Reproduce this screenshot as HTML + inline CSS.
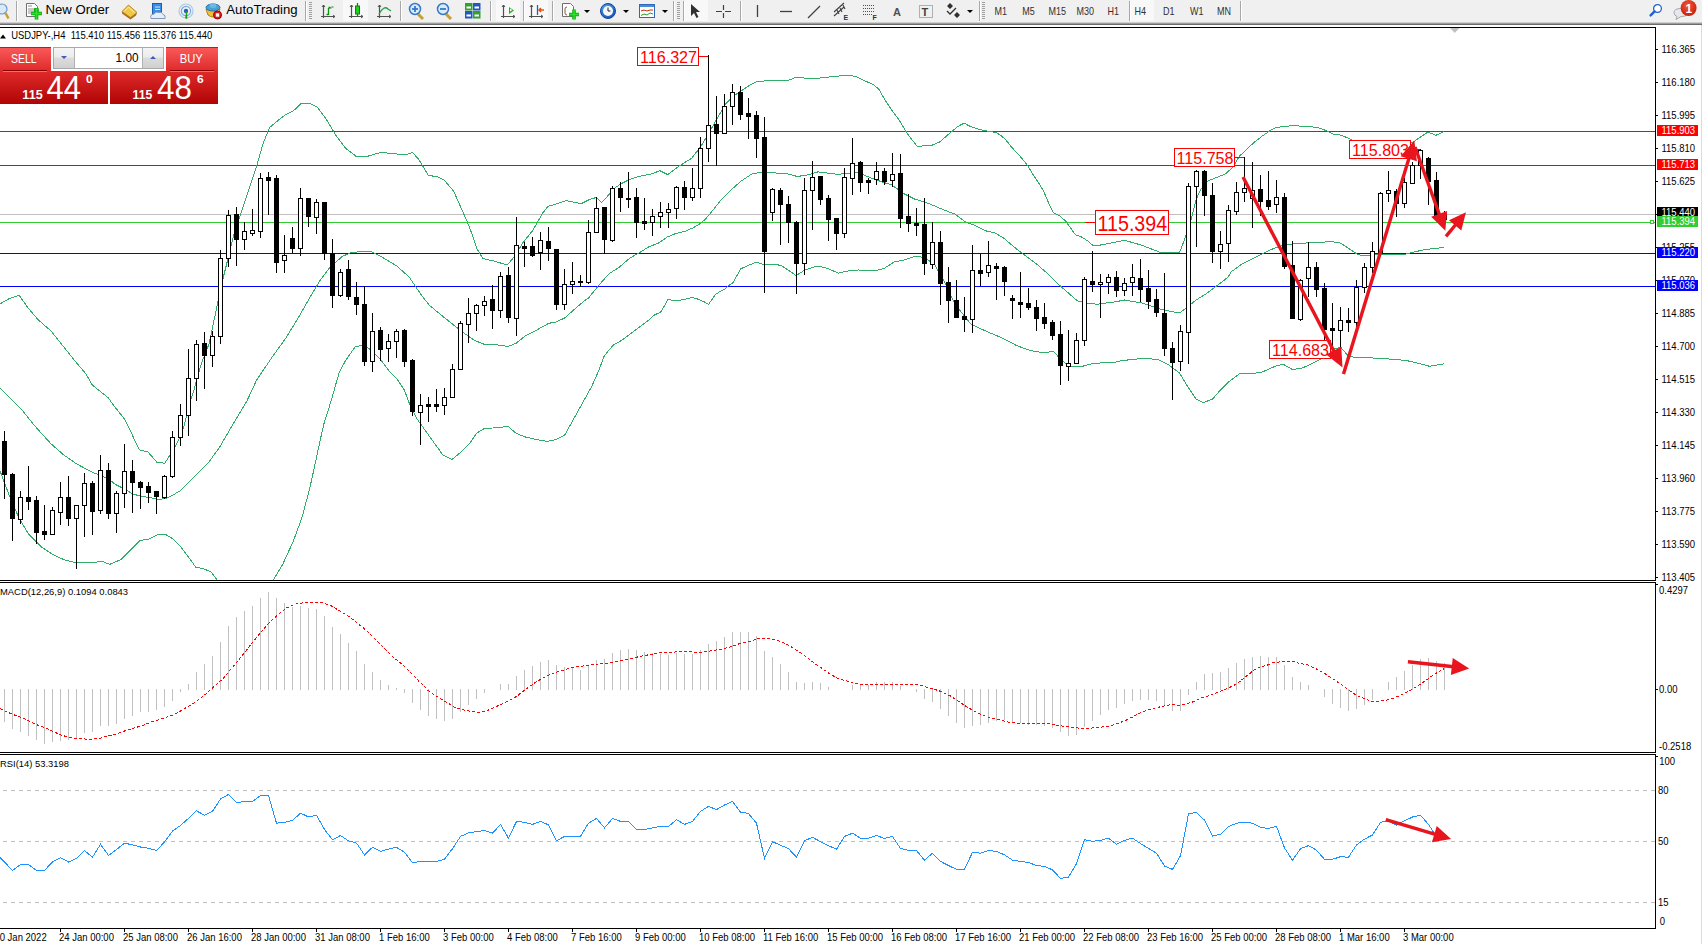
<!DOCTYPE html><html><head><meta charset="utf-8"><title>MT4 USDJPY H4</title><style>html,body{margin:0;padding:0;background:#fff;overflow:hidden;}svg{display:block;font-family:"Liberation Sans", sans-serif;}</style></head><body>
<svg width="1702" height="944" viewBox="0 0 1702 944">
<defs><linearGradient id="gSellTop" x1="0" y1="0" x2="0" y2="1"><stop offset="0" stop-color="#fb5a5a"/><stop offset="1" stop-color="#de2a2a"/></linearGradient><linearGradient id="gSellBot" x1="0" y1="0" x2="0" y2="1"><stop offset="0" stop-color="#e02a2a"/><stop offset="1" stop-color="#b00404"/></linearGradient><linearGradient id="gBtn" x1="0" y1="0" x2="0" y2="1"><stop offset="0" stop-color="#f4f4f4"/><stop offset="0.45" stop-color="#ececec"/><stop offset="0.5" stop-color="#dcdcdc"/><stop offset="1" stop-color="#d0d0d0"/></linearGradient><radialGradient id="gBadge" cx="0.45" cy="0.35" r="0.7"><stop offset="0" stop-color="#f05a3a"/><stop offset="1" stop-color="#c81808"/></radialGradient><radialGradient id="gClock" cx="0.4" cy="0.35" r="0.7"><stop offset="0" stop-color="#5ab0f0"/><stop offset="1" stop-color="#1450b0"/></radialGradient></defs>
<rect x="0" y="0" width="1702" height="944" fill="#ffffff"/>
<rect x="0" y="0" width="1702" height="22" fill="#f0f0f0"/>
<rect x="0" y="22" width="1702" height="1" fill="#cfcfcf"/>
<rect x="0" y="23" width="1702" height="1" fill="#9c9c9c"/>
<rect x="0" y="24" width="1702" height="1" fill="#6c6c6c"/>
<circle cx="2" cy="9" r="5" fill="#dbe9f6" stroke="#6c9ccc" stroke-width="1.2"/>
<path d="M5.5,13 L8.5,18.5" stroke="#c8a030" stroke-width="2.5"/>
<rect x="16" y="1" width="1" height="20" fill="#a8a8a8"/>
<rect x="17" y="1" width="1" height="20" fill="#ffffff"/>
<path d="M26.5,3.5 h8 l3,3 v10 h-11 z" fill="#fff" stroke="#707070"/>
<path d="M28,6 h4 M28,9 h7 M28,11 h7 M28,13 h5" stroke="#909090"/>
<path d="M34,10 h3 v-1.5 h0 M31,13.5 h11 M36.5,8 v11.5" stroke="#10b010" stroke-width="3.6"/>
<path d="M31.5,13.5 h10 M36.5,8.5 v10.5" stroke="#30e030" stroke-width="1.6"/>
<text transform="translate(45.5,14) scale(1.08,1)" font-size="12.2" fill="#000" font-weight="normal" text-anchor="start">New Order</text>
<path d="M122,11.5 L128.5,5 L137,12.5 L136,15.5 L130.5,19.5 L122,13.5 Z" fill="#a86a18"/>
<path d="M122,11.5 L128.5,5 L137,12.5 L130.5,17.5 Z" fill="#f0c848" stroke="#b88420" stroke-width="0.8"/>
<path d="M124,11.5 L128.5,7 L134.5,12.5" fill="none" stroke="#fff0a0" stroke-width="1"/>
<rect x="152.5" y="3.5" width="9" height="11" fill="#3c8ee0" stroke="#1c5ca8"/>
<path d="M155,7 h5 M155,9.5 h5" stroke="#cfe6ff"/>
<path d="M151,18.5 q-1.5,-4 3,-4.5 q1.5,-3 5,-1.5 q3,-1 4,2 q3,0.5 2,4 z" fill="#e8eef8" stroke="#8098c0"/>
<circle cx="186" cy="11" r="7" fill="none" stroke="#a8c8e8" stroke-width="1.2"/>
<circle cx="186" cy="11" r="4.6" fill="none" stroke="#78a8e0" stroke-width="1.2"/>
<circle cx="186" cy="11" r="2.2" fill="#2858c8"/>
<path d="M186.5,11 v7 h-1" stroke="#20a020" stroke-width="1.5"/>
<path d="M206,9 q7,-4 14,0 l-2,6 q-5,4 -10,0 z" fill="#f0c030" stroke="#b08010"/>
<ellipse cx="213" cy="7.5" rx="7" ry="3.5" fill="#4ca0d8" stroke="#2870a8"/>
<ellipse cx="213" cy="5.5" rx="3.5" ry="2.5" fill="#68b8e8"/>
<circle cx="217.5" cy="15" r="4" fill="#e01818" stroke="#a00000"/>
<rect x="215.8" y="13.3" width="3.4" height="3.4" fill="#fff"/>
<text transform="translate(226.3,14) scale(1.08,1)" font-size="12.2" fill="#000" font-weight="normal" text-anchor="start">AutoTrading</text>
<rect x="305" y="1" width="1" height="20" fill="#a8a8a8"/>
<rect x="306" y="1" width="1" height="20" fill="#ffffff"/>
<rect x="309" y="2" width="3" height="1" fill="#a0a0a0"/>
<rect x="309" y="4" width="3" height="1" fill="#a0a0a0"/>
<rect x="309" y="6" width="3" height="1" fill="#a0a0a0"/>
<rect x="309" y="8" width="3" height="1" fill="#a0a0a0"/>
<rect x="309" y="10" width="3" height="1" fill="#a0a0a0"/>
<rect x="309" y="12" width="3" height="1" fill="#a0a0a0"/>
<rect x="309" y="14" width="3" height="1" fill="#a0a0a0"/>
<rect x="309" y="16" width="3" height="1" fill="#a0a0a0"/>
<rect x="309" y="18" width="3" height="1" fill="#a0a0a0"/>
<path d="M323.5,5 v13 M321,16.5 h14" stroke="#505050" stroke-width="1.2"/>
<path d="M322,7 l1.5,-2 l1.5,2 M333,15 l2,1.5 l-2,1.5" fill="none" stroke="#505050"/>
<path d="M328.5,8 v7 M330.5,7.5 h-2 M328.5,14.5 h-2" stroke="#109010" stroke-width="1.3" fill="none"/>
<path d="M331.5,7 h2 M329,8 h2.5" stroke="#109010" stroke-width="1.2"/>
<rect x="343" y="0" width="25" height="21" fill="#f8f8f8"/>
<path d="M351.5,5 v13 M349,16.5 h14" stroke="#505050" stroke-width="1.2"/>
<path d="M350,7 l1.5,-2 l1.5,2 M361,15 l2,1.5 l-2,1.5" fill="none" stroke="#505050"/>
<rect x="355.5" y="6" width="4" height="8" fill="#20d020" stroke="#108010"/>
<path d="M357.5,3 v3 M357.5,14 v2.5" stroke="#108010" stroke-width="1.2"/>
<path d="M379.5,5 v13 M377,16.5 h14" stroke="#505050" stroke-width="1.2"/>
<path d="M378,7 l1.5,-2 l1.5,2 M389,15 l2,1.5 l-2,1.5" fill="none" stroke="#505050"/>
<path d="M379,14 q5,-9 9,-5 l3,2" fill="none" stroke="#20a040" stroke-width="1.3"/>
<rect x="400" y="1" width="1" height="20" fill="#a8a8a8"/>
<rect x="401" y="1" width="1" height="20" fill="#ffffff"/>
<path d="M418,14 l5,5" stroke="#c8a030" stroke-width="3"/>
<circle cx="415" cy="9" r="5.5" fill="#d8ecfa" stroke="#3878c8" stroke-width="1.5"/>
<path d="M412,9 h6" stroke="#3878c8" stroke-width="1.8"/>
<path d="M415,6 v6" stroke="#3878c8" stroke-width="1.8"/>
<path d="M446,14 l5,5" stroke="#c8a030" stroke-width="3"/>
<circle cx="443" cy="9" r="5.5" fill="#d8ecfa" stroke="#3878c8" stroke-width="1.5"/>
<path d="M440,9 h6" stroke="#3878c8" stroke-width="1.8"/>
<rect x="465" y="3" width="7.5" height="7.5" fill="#30a030"/>
<rect x="466.5" y="6.5" width="4.5" height="2" fill="#ffffff"/>
<rect x="473" y="3" width="7.5" height="7.5" fill="#2058c0"/>
<rect x="474.5" y="6.5" width="4.5" height="2" fill="#ffffff"/>
<rect x="465" y="11" width="7.5" height="7.5" fill="#2058c0"/>
<rect x="466.5" y="14.5" width="4.5" height="2" fill="#ffffff"/>
<rect x="473" y="11" width="7.5" height="7.5" fill="#30a030"/>
<rect x="474.5" y="14.5" width="4.5" height="2" fill="#ffffff"/>
<rect x="490" y="1" width="1" height="20" fill="#a8a8a8"/>
<rect x="491" y="1" width="1" height="20" fill="#ffffff"/>
<rect x="496" y="0" width="24" height="21" fill="#f8f8f8"/>
<path d="M503.5,5 v13 M501,16.5 h14" stroke="#505050" stroke-width="1.2"/>
<path d="M502,7 l1.5,-2 l1.5,2 M513,15 l2,1.5 l-2,1.5" fill="none" stroke="#505050"/>
<path d="M509,7 l5,3.5 l-5,3.5 z" fill="#20b020"/>
<path d="M510,8.5 l2.5,1.5 l-2.5,1.5 z" fill="#f8f8f8"/>
<rect x="523" y="1" width="1" height="20" fill="#a8a8a8"/>
<rect x="524" y="1" width="1" height="20" fill="#ffffff"/>
<rect x="525" y="0" width="23" height="21" fill="#f8f8f8"/>
<path d="M531.5,5 v13 M529,16.5 h14" stroke="#505050" stroke-width="1.2"/>
<path d="M530,7 l1.5,-2 l1.5,2 M541,15 l2,1.5 l-2,1.5" fill="none" stroke="#505050"/>
<path d="M537.5,5 v10" stroke="#2060c0" stroke-width="1.3"/>
<path d="M544,10 h-5 M541,8 l-2,2 l2,2" fill="none" stroke="#e05010" stroke-width="1.5"/>
<rect x="552" y="1" width="1" height="20" fill="#a8a8a8"/>
<rect x="553" y="1" width="1" height="20" fill="#ffffff"/>
<path d="M562.5,3.5 h8 l3,3 v10 h-11 z" fill="#fff" stroke="#707070"/>
<path d="M567,7 q-2,0 -2,2 v4 q0,2 2,2" fill="none" stroke="#806040"/>
<path d="M569,14.5 h10 M574,9.5 v10" stroke="#10b010" stroke-width="3.6"/>
<path d="M569.5,14.5 h9 M574,10 v9" stroke="#30e030" stroke-width="1.4"/>
<path d="M584,10 h6 l-3,3 z" fill="#000"/>
<circle cx="608" cy="11" r="7.5" fill="url(#gClock)" stroke="#1448a0"/>
<circle cx="608" cy="11" r="5" fill="#f4f8fc"/>
<path d="M608,7.5 v3.5 h2.5" fill="none" stroke="#202020" stroke-width="1"/>
<path d="M623,10 h6 l-3,3 z" fill="#000"/>
<rect x="639.5" y="4.5" width="15" height="13" fill="#fff" stroke="#3068b8"/>
<rect x="640" y="5" width="14" height="2" fill="#4a88d8"/>
<path d="M641,11 l3,-1 l3,1 l3,-1 l3,0" fill="none" stroke="#c03010" stroke-width="1"/>
<path d="M641,15.5 l3,-1.5 l3,1 l3,-2 l3,1" fill="none" stroke="#20a020" stroke-width="1"/>
<path d="M662,10 h6 l-3,3 z" fill="#000"/>
<rect x="673" y="1" width="1" height="20" fill="#a8a8a8"/>
<rect x="674" y="1" width="1" height="20" fill="#ffffff"/>
<rect x="677" y="2" width="3" height="1" fill="#a0a0a0"/>
<rect x="677" y="4" width="3" height="1" fill="#a0a0a0"/>
<rect x="677" y="6" width="3" height="1" fill="#a0a0a0"/>
<rect x="677" y="8" width="3" height="1" fill="#a0a0a0"/>
<rect x="677" y="10" width="3" height="1" fill="#a0a0a0"/>
<rect x="677" y="12" width="3" height="1" fill="#a0a0a0"/>
<rect x="677" y="14" width="3" height="1" fill="#a0a0a0"/>
<rect x="677" y="16" width="3" height="1" fill="#a0a0a0"/>
<rect x="677" y="18" width="3" height="1" fill="#a0a0a0"/>
<rect x="683" y="1" width="1" height="20" fill="#a8a8a8"/>
<rect x="684" y="1" width="1" height="20" fill="#ffffff"/>
<rect x="685" y="0" width="23" height="21" fill="#f8f8f8"/>
<path d="M691,4 v12 l3,-3 l2.5,5 l2,-1 l-2.5,-5 h4 z" fill="#303030"/>
<path d="M723.5,5 v13 M716,11.5 h15" stroke="#404040" stroke-width="1.2"/>
<rect x="722" y="10" width="3" height="3" fill="#f0f0f0"/>
<rect x="740" y="1" width="1" height="20" fill="#a8a8a8"/>
<rect x="741" y="1" width="1" height="20" fill="#ffffff"/>
<path d="M757.5,5 v12" stroke="#404040" stroke-width="1.3"/>
<path d="M780,11.5 h12" stroke="#404040" stroke-width="1.3"/>
<path d="M808,18 l12,-12" stroke="#404040" stroke-width="1.3"/>
<path d="M834,12 l10,-9 M834,16 l10,-9 M837,10 l2,4 M840,8 l2,4 M843,5 l2,4" stroke="#404040" stroke-width="1.1" fill="none"/>
<text x="843.5" y="20" font-size="7" fill="#303030" font-weight="bold" text-anchor="start">E</text>
<path d="M863,5.5 h12 M863,8.5 h12 M863,11.5 h12 M863,14.5 h10" stroke="#505050" stroke-dasharray="1,1"/>
<text x="872.5" y="20" font-size="7" fill="#303030" font-weight="bold" text-anchor="start">F</text>
<text x="893" y="16" font-size="11" fill="#505050" font-weight="bold" text-anchor="start">A</text>
<rect x="919.5" y="5.5" width="13" height="12" fill="none" stroke="#707070" stroke-dasharray="1,1"/>
<text x="921.6" y="16" font-size="11" fill="#404040" font-weight="bold" text-anchor="start">T</text>
<path d="M950,3 l3,3 l-3,3 l-3,-3 z M957,12 l3,3 l-3,3 l-3,-3 z" fill="#303030"/>
<path d="M947,11 l3,3 l6,-6" fill="none" stroke="#303030" stroke-width="1.3"/>
<path d="M967,10 h6 l-3,3 z" fill="#000"/>
<rect x="979" y="1" width="1" height="20" fill="#a8a8a8"/>
<rect x="980" y="1" width="1" height="20" fill="#ffffff"/>
<rect x="982" y="2" width="3" height="1" fill="#a0a0a0"/>
<rect x="982" y="4" width="3" height="1" fill="#a0a0a0"/>
<rect x="982" y="6" width="3" height="1" fill="#a0a0a0"/>
<rect x="982" y="8" width="3" height="1" fill="#a0a0a0"/>
<rect x="982" y="10" width="3" height="1" fill="#a0a0a0"/>
<rect x="982" y="12" width="3" height="1" fill="#a0a0a0"/>
<rect x="982" y="14" width="3" height="1" fill="#a0a0a0"/>
<rect x="982" y="16" width="3" height="1" fill="#a0a0a0"/>
<rect x="982" y="18" width="3" height="1" fill="#a0a0a0"/>
<text transform="translate(994.6,15.2) scale(0.9,1)" font-size="10" fill="#303030" font-weight="normal" text-anchor="start">M1</text>
<text transform="translate(1022.3,15.2) scale(0.9,1)" font-size="10" fill="#303030" font-weight="normal" text-anchor="start">M5</text>
<text transform="translate(1048.4,15.2) scale(0.9,1)" font-size="10" fill="#303030" font-weight="normal" text-anchor="start">M15</text>
<text transform="translate(1076.4,15.2) scale(0.9,1)" font-size="10" fill="#303030" font-weight="normal" text-anchor="start">M30</text>
<text transform="translate(1107.4,15.2) scale(0.9,1)" font-size="10" fill="#303030" font-weight="normal" text-anchor="start">H1</text>
<rect x="1129" y="1" width="1" height="20" fill="#a8a8a8"/>
<rect x="1130" y="1" width="1" height="20" fill="#ffffff"/>
<rect x="1131" y="0" width="23" height="21" fill="#f8f8f8"/>
<text transform="translate(1134.4,15.2) scale(0.9,1)" font-size="10" fill="#303030" font-weight="normal" text-anchor="start">H4</text>
<text transform="translate(1162.9,15.2) scale(0.9,1)" font-size="10" fill="#303030" font-weight="normal" text-anchor="start">D1</text>
<text transform="translate(1189.9,15.2) scale(0.9,1)" font-size="10" fill="#303030" font-weight="normal" text-anchor="start">W1</text>
<text transform="translate(1216.9,15.2) scale(0.9,1)" font-size="10" fill="#303030" font-weight="normal" text-anchor="start">MN</text>
<rect x="1240" y="1" width="1" height="20" fill="#a8a8a8"/>
<rect x="1241" y="1" width="1" height="20" fill="#ffffff"/>
<circle cx="1657.5" cy="8.5" r="3.9" fill="#fff" stroke="#2060d0" stroke-width="1.3"/>
<path d="M1654.6,11.4 l-4,4" stroke="#2060d0" stroke-width="2.4" stroke-linecap="round"/>
<path d="M1676,19.5 l1,-3 q-3,-1 -3,-4 q0,-4 7,-4 q7,0 7,4 q0,4 -7,4 z" fill="#e6e8ee" stroke="#a8a8a8"/>
<circle cx="1688.6" cy="8" r="8" fill="url(#gBadge)"/>
<text x="1688.8" y="12.6" font-size="12" fill="#fff" font-weight="bold" text-anchor="middle">1</text>
<path d="M1450,28 H1459.5 L1454.75,33 Z" fill="#c0c0c0"/>
<rect x="1701" y="25" width="1" height="919" fill="#dcdcdc"/>
<rect x="0" y="131" width="1655" height="1" fill="#ff0000"/>
<rect x="0" y="165" width="1655" height="1" fill="#ff0000"/>
<rect x="0" y="214" width="1655" height="1" fill="#c0c0c0"/>
<rect x="0" y="222" width="1655" height="1" fill="#32cd32"/>
<rect x="0" y="253" width="1655" height="1" fill="#0000ff"/>
<rect x="0" y="286" width="1655" height="1" fill="#0000ff"/>
<rect x="1650.5" y="220.5" width="3" height="3" fill="#fff" stroke="#32cd32"/>
<g clip-path="url(#clipMain)">
<clipPath id="clipMain"><rect x="0" y="28" width="1655" height="552"/></clipPath>
<polyline points="0,303.8 9.5,298.4 19.1,295.3 28.6,308.6 38.1,319.7 50.8,330.8 63.6,346.7 76.3,362.6 85.8,373.7 92.2,384.9 108,397.6 116,408.4 124.5,419 130.8,431.8 139.3,449.8 147.8,451.9 157.3,462.7 164.8,463.1 170.6,454.1 176.9,443.5 183.3,428.7 189.6,403.3 193.9,390.6 196.4,380 202,362 209.1,343.7 221.8,283.3 234.5,232.5 247.2,194.4 256.7,165.8 263.1,143.5 269.4,127.7 278.9,119.7 285.3,114.9 293.2,111.1 301.2,103.2 309.1,103.2 317.1,107 326.6,119.7 336.1,135.6 345.7,148.3 356.8,156.9 367.9,156.2 380.6,152.4 393.3,153.7 406,154.7 412.4,152.4 418.7,159.4 428.2,175.3 437.8,176.9 444.1,180.1 453.7,191.2 460,205.5 466.4,219.8 472.7,235.7 476.7,248.5 483,258.6 494.5,261.2 507.2,265 514.8,256.1 522.4,243.4 532.6,230.7 542.8,212.9 548,206.3 555.6,204.2 565.8,200.7 573.4,202 581.1,203.7 588.7,199.9 596.3,197.4 601.4,202.5 606.5,197.4 614.1,188.5 621.7,183.4 629.4,179.6 637,177 644.6,175.3 652.2,173.7 659.9,170.7 667.6,174.6 677.8,167 691.8,158.1 700.7,146.6 708.3,133.9 718.5,116.1 726.1,103.4 733.7,95.8 741.4,90.7 749,85.6 756.6,81.8 769.3,80.5 780,81 787.3,80.8 796.2,77.3 807.6,78.3 817.8,78.3 833,76.5 848.3,75.3 855.9,76.5 863.5,80.3 873.7,84.7 878.8,89.2 883.9,98.1 891.6,110 899.3,120.2 906.9,132.9 917.1,146.4 932.3,145.1 939.9,141.8 950.1,132.9 957.7,126.5 964.1,123.2 970.4,126.5 978.1,129.1 985.7,130.8 995.9,132.4 1000.7,135.4 1005.4,139.4 1011.8,147.3 1021.3,157.7 1027.7,165.6 1032.4,173.6 1038.8,183.1 1043.6,191.1 1048.3,202.2 1053.1,212.5 1059.5,215.7 1065.8,221.3 1075.4,234.8 1081.7,237.1 1088.1,241.1 1092.8,245.4 1100,245.1 1108,243.6 1124.5,240.3 1141,245 1160.3,252.4 1179.6,252.4 1185.1,238.1 1190.6,221.6 1196.1,199.6 1200.5,189.9 1207.6,181.1 1216.4,177.6 1225.2,174 1232.3,167.9 1239.3,156.4 1246.4,149.4 1255.2,141.4 1262.2,136.1 1271.1,130 1276.3,127.3 1286.9,126.4 1294,125.2 1301,126.4 1311.6,126.8 1320.4,128.2 1327.5,131.4 1332.7,134 1341.6,135.3 1348.6,138.4 1353.9,141.4 1380,146 1400,147 1413,142.3 1419.1,137.9 1427.9,132.1 1435.9,135.3 1444,131.7" fill="none" stroke="#30ad68" stroke-width="1" shape-rendering="crispEdges"/>
<polyline points="0,388 9.5,397.6 22.2,410.3 35,426.2 50.8,443.6 63.6,454.8 76.3,463.7 92.2,472.2 108,478.6 116,484.8 124.5,489 133,494 141.4,496.4 149.9,497.5 158.4,499.6 166.4,498.2 173.2,494.9 181.2,490.1 191.8,479.5 202.4,468.9 209.3,461.4 219.3,447.8 223.5,440.4 234.1,422.4 246.8,401.2 256.7,379.9 272.6,356.4 285.3,338.9 298,318.3 310.7,296 320.2,280.1 329.8,267.4 342.5,256.3 352,252.2 371.1,251.5 380.6,256.3 396.5,265.8 409.2,277 418.7,291.2 425.1,300 429.6,305.4 440.4,314.4 449.4,321.6 458.4,328.8 465.6,334.2 474.7,340.5 483.7,344.1 498.1,345 508,346.5 516.1,343.2 525.1,336 534.1,331.5 548.5,323.4 555.7,322 564.7,318 573.7,309.9 585.4,300 588.7,297.8 598.9,285.1 609,273.7 619.2,267.3 629.4,258.4 640,252.3 648.5,247 659.1,242.8 667.5,236.9 675,233.8 685.5,231.1 693,227.9 699.3,224.2 704.6,220 710.9,212.7 721,200 731.2,189.8 741.4,180.9 751.5,174.1 761.7,172 780,173.3 787.3,173.9 797.4,176.5 807.6,174.9 817.8,171.9 827.9,173.1 838.1,174.4 848.3,173.1 858.4,172.4 868.6,177 878.8,180.8 892,185.1 904.3,193.9 914.5,199 924.7,202 934.9,206.1 945,210.4 955.2,214.2 965.4,221.9 975.5,225.7 985.7,230.8 995.9,233.3 1004,238.4 1016.3,248.8 1026.5,256.4 1036.7,264.1 1046.9,273 1057,283.1 1067.2,292 1077.4,300.9 1087.5,303.5 1097.7,304.2 1107.9,302.7 1116,301.7 1124.5,300 1141,302.8 1157.5,308.3 1168.6,311 1179.6,313 1187.8,306.9 1196.1,300 1207.1,293.1 1218.1,284.9 1228,277.2 1231,272 1242,263.9 1255.8,257 1266.8,251.5 1275,247.9 1286.1,244.6 1302.6,243.2 1316.3,242.4 1332,241.7 1340.6,243.1 1349.2,248.8 1357.8,254.6 1366.4,256 1377.8,254 1389.3,254 1406.4,254 1415,251.7 1426.5,249.4 1444,247.4" fill="none" stroke="#30ad68" stroke-width="1" shape-rendering="crispEdges"/>
<polyline points="0,470.7 9.5,496.1 19.1,518.3 28.6,534.2 41.3,546.9 50.8,553.3 63.6,559.6 76.3,562.8 92.2,562.8 101.7,561.2 109.6,564.4 120.8,559.6 130.3,550.1 139.8,540.6 149.3,539 158.9,534.2 166.4,535 172.7,538.8 181.2,547.3 187.5,555.8 196,567.4 202.4,568.5 210.8,571.6 217.2,580 230,600 250,610 265,595 273.3,580 282.8,564.2 293.4,541 301.9,517.7 308.2,494.4 311.6,480 316.7,456.6 320.5,438.8 324.3,422.3 328.1,410.8 331.9,398.1 335.8,384.2 339.6,371.4 345.9,360 355.2,346.8 363.1,345.3 371.1,350 380.6,359.5 390,372 397.2,379.3 404.4,390.1 409.8,404.5 417,418.9 426,431.5 435,444.1 443.1,455.3 452.1,459.4 462,451.3 469.2,444.1 476.5,433.3 483.7,428.8 498.1,427.5 508,426.4 516.1,433.3 525.1,436.9 534.1,439 546.7,441.4 555.7,439.6 564.7,435.1 573.7,418.9 582.7,402.7 591.7,386.5 598.9,370.2 604.3,355.8 613.3,345 620,341.4 624.3,338.5 634.4,330.9 644.6,323.2 649,320 653.8,315.3 660.7,312.1 668.1,299.4 673.9,300.5 679.2,300.3 685.5,299.2 691.9,297.5 697.2,298.9 703.5,301.5 708.6,304.4 715.2,294.7 720.5,291.2 724.7,289.4 727.9,286.2 733.2,282.5 740.6,268.9 748,265.5 755.4,262.6 758.6,262.9 763.9,264.5 776.6,264.5 782.2,266 796.2,275.6 805.1,269.8 817.8,266 827.9,268.5 838.1,273.1 848.3,271 858.4,270 873.7,271 883.9,268.5 894.2,262 904.3,260 915.8,256.2 924.7,257.5 934.9,265.1 945,282.9 952.6,299.4 960.3,310.9 970.4,323.6 980.6,328.7 990.8,333.2 1004,338.8 1016.3,345.4 1026.5,349.3 1036.7,351.8 1046.9,352.6 1053.2,351 1059.6,358.2 1069.7,367 1082.4,366.3 1092.6,363.7 1102.8,362.7 1116,362 1121.8,360.6 1141,358.6 1157.5,359.2 1168.6,364.7 1179.6,373 1187.8,386.7 1196.1,399.1 1203,402.7 1212.6,399.1 1220.9,389.5 1228.3,382.2 1239.3,374 1253,373.4 1260,372.6 1265.9,370.5 1271.8,367.6 1277.6,365.5 1283.5,364.4 1292.3,369.4 1301.1,368.5 1309.9,364.7 1318.8,360 1327.3,356.1 1334,348.5 1341,347.6 1348.1,355.9 1354,357.3 1366.4,357.6 1389.3,359 1406.4,360.5 1417.9,363.3 1429.3,366.2 1444,363.9" fill="none" stroke="#30ad68" stroke-width="1" shape-rendering="crispEdges"/>
</g>
<rect x="4" y="431" width="1" height="10" fill="#000"/>
<rect x="4" y="475" width="1" height="24" fill="#000"/>
<rect x="2" y="441" width="5" height="34" fill="#000"/>
<rect x="12" y="473" width="1" height="1" fill="#000"/>
<rect x="12" y="519" width="1" height="22" fill="#000"/>
<rect x="10" y="474" width="5" height="45" fill="#000"/>
<rect x="20" y="491" width="1" height="6" fill="#000"/>
<rect x="20" y="520" width="1" height="4" fill="#000"/>
<rect x="18" y="497" width="5" height="23" fill="#000"/>
<rect x="19" y="498" width="3" height="21" fill="#fff"/>
<rect x="28" y="466" width="1" height="31" fill="#000"/>
<rect x="28" y="502" width="1" height="8" fill="#000"/>
<rect x="26" y="497" width="5" height="5" fill="#000"/>
<rect x="36" y="496" width="1" height="4" fill="#000"/>
<rect x="36" y="533" width="1" height="11" fill="#000"/>
<rect x="34" y="500" width="5" height="33" fill="#000"/>
<rect x="44" y="505" width="1" height="26" fill="#000"/>
<rect x="44" y="535" width="1" height="5" fill="#000"/>
<rect x="42" y="531" width="5" height="4" fill="#000"/>
<rect x="52" y="507" width="1" height="3" fill="#000"/>
<rect x="50" y="510" width="5" height="25" fill="#000"/>
<rect x="51" y="511" width="3" height="23" fill="#fff"/>
<rect x="60" y="482" width="1" height="15" fill="#000"/>
<rect x="60" y="513" width="1" height="12" fill="#000"/>
<rect x="58" y="497" width="5" height="16" fill="#000"/>
<rect x="59" y="498" width="3" height="14" fill="#fff"/>
<rect x="68" y="476" width="1" height="21" fill="#000"/>
<rect x="68" y="519" width="1" height="7" fill="#000"/>
<rect x="66" y="497" width="5" height="22" fill="#000"/>
<rect x="76" y="519" width="1" height="50" fill="#000"/>
<rect x="74" y="505" width="5" height="14" fill="#000"/>
<rect x="75" y="506" width="3" height="12" fill="#fff"/>
<rect x="84" y="473" width="1" height="10" fill="#000"/>
<rect x="84" y="506" width="1" height="31" fill="#000"/>
<rect x="82" y="483" width="5" height="23" fill="#000"/>
<rect x="83" y="484" width="3" height="21" fill="#fff"/>
<rect x="92" y="481" width="1" height="2" fill="#000"/>
<rect x="92" y="512" width="1" height="23" fill="#000"/>
<rect x="90" y="483" width="5" height="29" fill="#000"/>
<rect x="100" y="455" width="1" height="15" fill="#000"/>
<rect x="100" y="511" width="1" height="3" fill="#000"/>
<rect x="98" y="470" width="5" height="41" fill="#000"/>
<rect x="99" y="471" width="3" height="39" fill="#fff"/>
<rect x="108" y="463" width="1" height="7" fill="#000"/>
<rect x="108" y="514" width="1" height="5" fill="#000"/>
<rect x="106" y="470" width="5" height="44" fill="#000"/>
<rect x="116" y="491" width="1" height="2" fill="#000"/>
<rect x="116" y="514" width="1" height="19" fill="#000"/>
<rect x="114" y="493" width="5" height="21" fill="#000"/>
<rect x="115" y="494" width="3" height="19" fill="#fff"/>
<rect x="124" y="444" width="1" height="27" fill="#000"/>
<rect x="124" y="494" width="1" height="14" fill="#000"/>
<rect x="122" y="471" width="5" height="23" fill="#000"/>
<rect x="123" y="472" width="3" height="21" fill="#fff"/>
<rect x="132" y="460" width="1" height="11" fill="#000"/>
<rect x="132" y="483" width="1" height="30" fill="#000"/>
<rect x="130" y="471" width="5" height="12" fill="#000"/>
<rect x="140" y="481" width="1" height="1" fill="#000"/>
<rect x="140" y="488" width="1" height="21" fill="#000"/>
<rect x="138" y="482" width="5" height="6" fill="#000"/>
<rect x="148" y="482" width="1" height="4" fill="#000"/>
<rect x="148" y="493" width="1" height="10" fill="#000"/>
<rect x="146" y="486" width="5" height="7" fill="#000"/>
<rect x="156" y="497" width="1" height="17" fill="#000"/>
<rect x="154" y="491" width="5" height="6" fill="#000"/>
<rect x="164" y="475" width="1" height="1" fill="#000"/>
<rect x="164" y="498" width="1" height="1" fill="#000"/>
<rect x="162" y="476" width="5" height="22" fill="#000"/>
<rect x="163" y="477" width="3" height="20" fill="#fff"/>
<rect x="172" y="431" width="1" height="6" fill="#000"/>
<rect x="172" y="477" width="1" height="1" fill="#000"/>
<rect x="170" y="437" width="5" height="40" fill="#000"/>
<rect x="171" y="438" width="3" height="38" fill="#fff"/>
<rect x="180" y="404" width="1" height="11" fill="#000"/>
<rect x="180" y="438" width="1" height="8" fill="#000"/>
<rect x="178" y="415" width="5" height="23" fill="#000"/>
<rect x="179" y="416" width="3" height="21" fill="#fff"/>
<rect x="188" y="349" width="1" height="29" fill="#000"/>
<rect x="188" y="416" width="1" height="20" fill="#000"/>
<rect x="186" y="378" width="5" height="38" fill="#000"/>
<rect x="187" y="379" width="3" height="36" fill="#fff"/>
<rect x="196" y="340" width="1" height="4" fill="#000"/>
<rect x="196" y="379" width="1" height="22" fill="#000"/>
<rect x="194" y="344" width="5" height="35" fill="#000"/>
<rect x="195" y="345" width="3" height="33" fill="#fff"/>
<rect x="204" y="332" width="1" height="11" fill="#000"/>
<rect x="204" y="356" width="1" height="33" fill="#000"/>
<rect x="202" y="343" width="5" height="13" fill="#000"/>
<rect x="212" y="331" width="1" height="5" fill="#000"/>
<rect x="212" y="356" width="1" height="11" fill="#000"/>
<rect x="210" y="336" width="5" height="20" fill="#000"/>
<rect x="211" y="337" width="3" height="18" fill="#fff"/>
<rect x="220" y="250" width="1" height="8" fill="#000"/>
<rect x="220" y="337" width="1" height="7" fill="#000"/>
<rect x="218" y="258" width="5" height="79" fill="#000"/>
<rect x="219" y="259" width="3" height="77" fill="#fff"/>
<rect x="228" y="210" width="1" height="5" fill="#000"/>
<rect x="228" y="259" width="1" height="8" fill="#000"/>
<rect x="226" y="215" width="5" height="44" fill="#000"/>
<rect x="227" y="216" width="3" height="42" fill="#fff"/>
<rect x="236" y="207" width="1" height="7" fill="#000"/>
<rect x="236" y="240" width="1" height="26" fill="#000"/>
<rect x="234" y="214" width="5" height="26" fill="#000"/>
<rect x="244" y="222" width="1" height="9" fill="#000"/>
<rect x="244" y="240" width="1" height="10" fill="#000"/>
<rect x="242" y="231" width="5" height="9" fill="#000"/>
<rect x="243" y="232" width="3" height="7" fill="#fff"/>
<rect x="252" y="209" width="1" height="21" fill="#000"/>
<rect x="252" y="234" width="1" height="2" fill="#000"/>
<rect x="250" y="230" width="5" height="4" fill="#000"/>
<rect x="251" y="231" width="3" height="2" fill="#fff"/>
<rect x="260" y="173" width="1" height="5" fill="#000"/>
<rect x="260" y="232" width="1" height="6" fill="#000"/>
<rect x="258" y="178" width="5" height="54" fill="#000"/>
<rect x="259" y="179" width="3" height="52" fill="#fff"/>
<rect x="268" y="172" width="1" height="5" fill="#000"/>
<rect x="268" y="181" width="1" height="34" fill="#000"/>
<rect x="266" y="177" width="5" height="4" fill="#000"/>
<rect x="276" y="175" width="1" height="3" fill="#000"/>
<rect x="276" y="263" width="1" height="10" fill="#000"/>
<rect x="274" y="178" width="5" height="85" fill="#000"/>
<rect x="284" y="235" width="1" height="20" fill="#000"/>
<rect x="284" y="261" width="1" height="12" fill="#000"/>
<rect x="282" y="255" width="5" height="6" fill="#000"/>
<rect x="283" y="256" width="3" height="4" fill="#fff"/>
<rect x="292" y="227" width="1" height="11" fill="#000"/>
<rect x="292" y="249" width="1" height="4" fill="#000"/>
<rect x="290" y="238" width="5" height="11" fill="#000"/>
<rect x="300" y="188" width="1" height="10" fill="#000"/>
<rect x="300" y="249" width="1" height="7" fill="#000"/>
<rect x="298" y="198" width="5" height="51" fill="#000"/>
<rect x="299" y="199" width="3" height="49" fill="#fff"/>
<rect x="308" y="217" width="1" height="10" fill="#000"/>
<rect x="306" y="198" width="5" height="19" fill="#000"/>
<rect x="316" y="199" width="1" height="3" fill="#000"/>
<rect x="316" y="218" width="1" height="16" fill="#000"/>
<rect x="314" y="202" width="5" height="16" fill="#000"/>
<rect x="315" y="203" width="3" height="14" fill="#fff"/>
<rect x="324" y="254" width="1" height="6" fill="#000"/>
<rect x="322" y="202" width="5" height="52" fill="#000"/>
<rect x="332" y="239" width="1" height="14" fill="#000"/>
<rect x="332" y="296" width="1" height="12" fill="#000"/>
<rect x="330" y="253" width="5" height="43" fill="#000"/>
<rect x="340" y="269" width="1" height="3" fill="#000"/>
<rect x="340" y="296" width="1" height="1" fill="#000"/>
<rect x="338" y="272" width="5" height="24" fill="#000"/>
<rect x="339" y="273" width="3" height="22" fill="#fff"/>
<rect x="348" y="260" width="1" height="9" fill="#000"/>
<rect x="348" y="297" width="1" height="3" fill="#000"/>
<rect x="346" y="269" width="5" height="28" fill="#000"/>
<rect x="356" y="282" width="1" height="15" fill="#000"/>
<rect x="356" y="305" width="1" height="10" fill="#000"/>
<rect x="354" y="297" width="5" height="8" fill="#000"/>
<rect x="364" y="286" width="1" height="18" fill="#000"/>
<rect x="364" y="362" width="1" height="4" fill="#000"/>
<rect x="362" y="304" width="5" height="58" fill="#000"/>
<rect x="372" y="313" width="1" height="18" fill="#000"/>
<rect x="372" y="362" width="1" height="10" fill="#000"/>
<rect x="370" y="331" width="5" height="31" fill="#000"/>
<rect x="371" y="332" width="3" height="29" fill="#fff"/>
<rect x="380" y="327" width="1" height="3" fill="#000"/>
<rect x="380" y="350" width="1" height="11" fill="#000"/>
<rect x="378" y="330" width="5" height="20" fill="#000"/>
<rect x="388" y="334" width="1" height="7" fill="#000"/>
<rect x="388" y="349" width="1" height="13" fill="#000"/>
<rect x="386" y="341" width="5" height="8" fill="#000"/>
<rect x="387" y="342" width="3" height="6" fill="#fff"/>
<rect x="396" y="329" width="1" height="2" fill="#000"/>
<rect x="396" y="342" width="1" height="16" fill="#000"/>
<rect x="394" y="331" width="5" height="11" fill="#000"/>
<rect x="395" y="332" width="3" height="9" fill="#fff"/>
<rect x="404" y="329" width="1" height="1" fill="#000"/>
<rect x="404" y="362" width="1" height="5" fill="#000"/>
<rect x="402" y="330" width="5" height="32" fill="#000"/>
<rect x="412" y="359" width="1" height="1" fill="#000"/>
<rect x="412" y="412" width="1" height="4" fill="#000"/>
<rect x="410" y="360" width="5" height="52" fill="#000"/>
<rect x="420" y="394" width="1" height="11" fill="#000"/>
<rect x="420" y="413" width="1" height="32" fill="#000"/>
<rect x="418" y="405" width="5" height="8" fill="#000"/>
<rect x="419" y="406" width="3" height="6" fill="#fff"/>
<rect x="428" y="397" width="1" height="7" fill="#000"/>
<rect x="428" y="407" width="1" height="15" fill="#000"/>
<rect x="426" y="404" width="5" height="3" fill="#000"/>
<rect x="436" y="389" width="1" height="15" fill="#000"/>
<rect x="436" y="407" width="1" height="5" fill="#000"/>
<rect x="434" y="404" width="5" height="3" fill="#000"/>
<rect x="444" y="388" width="1" height="9" fill="#000"/>
<rect x="444" y="406" width="1" height="9" fill="#000"/>
<rect x="442" y="397" width="5" height="9" fill="#000"/>
<rect x="443" y="398" width="3" height="7" fill="#fff"/>
<rect x="452" y="364" width="1" height="5" fill="#000"/>
<rect x="450" y="369" width="5" height="29" fill="#000"/>
<rect x="451" y="370" width="3" height="27" fill="#fff"/>
<rect x="460" y="321" width="1" height="2" fill="#000"/>
<rect x="458" y="323" width="5" height="47" fill="#000"/>
<rect x="459" y="324" width="3" height="45" fill="#fff"/>
<rect x="468" y="298" width="1" height="15" fill="#000"/>
<rect x="468" y="325" width="1" height="18" fill="#000"/>
<rect x="466" y="313" width="5" height="12" fill="#000"/>
<rect x="467" y="314" width="3" height="10" fill="#fff"/>
<rect x="476" y="304" width="1" height="1" fill="#000"/>
<rect x="476" y="314" width="1" height="17" fill="#000"/>
<rect x="474" y="305" width="5" height="9" fill="#000"/>
<rect x="475" y="306" width="3" height="7" fill="#fff"/>
<rect x="484" y="296" width="1" height="5" fill="#000"/>
<rect x="484" y="306" width="1" height="10" fill="#000"/>
<rect x="482" y="301" width="5" height="5" fill="#000"/>
<rect x="483" y="302" width="3" height="3" fill="#fff"/>
<rect x="492" y="285" width="1" height="14" fill="#000"/>
<rect x="492" y="311" width="1" height="18" fill="#000"/>
<rect x="490" y="299" width="5" height="12" fill="#000"/>
<rect x="500" y="272" width="1" height="4" fill="#000"/>
<rect x="500" y="311" width="1" height="7" fill="#000"/>
<rect x="498" y="276" width="5" height="35" fill="#000"/>
<rect x="499" y="277" width="3" height="33" fill="#fff"/>
<rect x="508" y="267" width="1" height="8" fill="#000"/>
<rect x="508" y="318" width="1" height="5" fill="#000"/>
<rect x="506" y="275" width="5" height="43" fill="#000"/>
<rect x="516" y="217" width="1" height="28" fill="#000"/>
<rect x="516" y="319" width="1" height="17" fill="#000"/>
<rect x="514" y="245" width="5" height="74" fill="#000"/>
<rect x="515" y="246" width="3" height="72" fill="#fff"/>
<rect x="524" y="242" width="1" height="4" fill="#000"/>
<rect x="524" y="249" width="1" height="18" fill="#000"/>
<rect x="522" y="246" width="5" height="3" fill="#000"/>
<rect x="532" y="237" width="1" height="9" fill="#000"/>
<rect x="532" y="256" width="1" height="1" fill="#000"/>
<rect x="530" y="246" width="5" height="10" fill="#000"/>
<rect x="540" y="232" width="1" height="8" fill="#000"/>
<rect x="540" y="253" width="1" height="17" fill="#000"/>
<rect x="538" y="240" width="5" height="13" fill="#000"/>
<rect x="539" y="241" width="3" height="11" fill="#fff"/>
<rect x="548" y="227" width="1" height="14" fill="#000"/>
<rect x="548" y="249" width="1" height="12" fill="#000"/>
<rect x="546" y="241" width="5" height="8" fill="#000"/>
<rect x="556" y="305" width="1" height="5" fill="#000"/>
<rect x="554" y="249" width="5" height="56" fill="#000"/>
<rect x="564" y="269" width="1" height="15" fill="#000"/>
<rect x="564" y="305" width="1" height="5" fill="#000"/>
<rect x="562" y="284" width="5" height="21" fill="#000"/>
<rect x="563" y="285" width="3" height="19" fill="#fff"/>
<rect x="572" y="262" width="1" height="19" fill="#000"/>
<rect x="572" y="285" width="1" height="9" fill="#000"/>
<rect x="570" y="281" width="5" height="4" fill="#000"/>
<rect x="571" y="282" width="3" height="2" fill="#fff"/>
<rect x="580" y="275" width="1" height="6" fill="#000"/>
<rect x="580" y="283" width="1" height="4" fill="#000"/>
<rect x="578" y="281" width="5" height="2" fill="#000"/>
<rect x="588" y="220" width="1" height="12" fill="#000"/>
<rect x="588" y="283" width="1" height="1" fill="#000"/>
<rect x="586" y="232" width="5" height="51" fill="#000"/>
<rect x="587" y="233" width="3" height="49" fill="#fff"/>
<rect x="596" y="197" width="1" height="11" fill="#000"/>
<rect x="594" y="208" width="5" height="25" fill="#000"/>
<rect x="595" y="209" width="3" height="23" fill="#fff"/>
<rect x="604" y="240" width="1" height="14" fill="#000"/>
<rect x="602" y="207" width="5" height="33" fill="#000"/>
<rect x="612" y="186" width="1" height="2" fill="#000"/>
<rect x="612" y="241" width="1" height="1" fill="#000"/>
<rect x="610" y="188" width="5" height="53" fill="#000"/>
<rect x="611" y="189" width="3" height="51" fill="#fff"/>
<rect x="620" y="182" width="1" height="6" fill="#000"/>
<rect x="620" y="198" width="1" height="14" fill="#000"/>
<rect x="618" y="188" width="5" height="10" fill="#000"/>
<rect x="628" y="172" width="1" height="26" fill="#000"/>
<rect x="628" y="200" width="1" height="8" fill="#000"/>
<rect x="626" y="198" width="5" height="2" fill="#000"/>
<rect x="636" y="188" width="1" height="9" fill="#000"/>
<rect x="636" y="223" width="1" height="15" fill="#000"/>
<rect x="634" y="197" width="5" height="26" fill="#000"/>
<rect x="644" y="198" width="1" height="23" fill="#000"/>
<rect x="644" y="224" width="1" height="6" fill="#000"/>
<rect x="642" y="221" width="5" height="3" fill="#000"/>
<rect x="652" y="209" width="1" height="7" fill="#000"/>
<rect x="652" y="223" width="1" height="13" fill="#000"/>
<rect x="650" y="216" width="5" height="7" fill="#000"/>
<rect x="651" y="217" width="3" height="5" fill="#fff"/>
<rect x="660" y="202" width="1" height="10" fill="#000"/>
<rect x="660" y="217" width="1" height="11" fill="#000"/>
<rect x="658" y="212" width="5" height="5" fill="#000"/>
<rect x="659" y="213" width="3" height="3" fill="#fff"/>
<rect x="668" y="203" width="1" height="6" fill="#000"/>
<rect x="668" y="213" width="1" height="15" fill="#000"/>
<rect x="666" y="209" width="5" height="4" fill="#000"/>
<rect x="667" y="210" width="3" height="2" fill="#fff"/>
<rect x="676" y="186" width="1" height="1" fill="#000"/>
<rect x="676" y="209" width="1" height="10" fill="#000"/>
<rect x="674" y="187" width="5" height="22" fill="#000"/>
<rect x="675" y="188" width="3" height="20" fill="#fff"/>
<rect x="684" y="181" width="1" height="6" fill="#000"/>
<rect x="684" y="198" width="1" height="12" fill="#000"/>
<rect x="682" y="187" width="5" height="11" fill="#000"/>
<rect x="692" y="168" width="1" height="20" fill="#000"/>
<rect x="692" y="198" width="1" height="3" fill="#000"/>
<rect x="690" y="188" width="5" height="10" fill="#000"/>
<rect x="691" y="189" width="3" height="8" fill="#fff"/>
<rect x="700" y="137" width="1" height="11" fill="#000"/>
<rect x="700" y="189" width="1" height="9" fill="#000"/>
<rect x="698" y="148" width="5" height="41" fill="#000"/>
<rect x="699" y="149" width="3" height="39" fill="#fff"/>
<rect x="708" y="55" width="1" height="70" fill="#000"/>
<rect x="708" y="149" width="1" height="13" fill="#000"/>
<rect x="706" y="125" width="5" height="24" fill="#000"/>
<rect x="707" y="126" width="3" height="22" fill="#fff"/>
<rect x="716" y="96" width="1" height="28" fill="#000"/>
<rect x="716" y="134" width="1" height="32" fill="#000"/>
<rect x="714" y="124" width="5" height="10" fill="#000"/>
<rect x="724" y="94" width="1" height="12" fill="#000"/>
<rect x="722" y="106" width="5" height="28" fill="#000"/>
<rect x="723" y="107" width="3" height="26" fill="#fff"/>
<rect x="732" y="84" width="1" height="8" fill="#000"/>
<rect x="732" y="107" width="1" height="18" fill="#000"/>
<rect x="730" y="92" width="5" height="15" fill="#000"/>
<rect x="731" y="93" width="3" height="13" fill="#fff"/>
<rect x="740" y="86" width="1" height="6" fill="#000"/>
<rect x="740" y="115" width="1" height="5" fill="#000"/>
<rect x="738" y="92" width="5" height="23" fill="#000"/>
<rect x="748" y="98" width="1" height="15" fill="#000"/>
<rect x="748" y="117" width="1" height="22" fill="#000"/>
<rect x="746" y="113" width="5" height="4" fill="#000"/>
<rect x="756" y="111" width="1" height="4" fill="#000"/>
<rect x="756" y="139" width="1" height="19" fill="#000"/>
<rect x="754" y="115" width="5" height="24" fill="#000"/>
<rect x="764" y="117" width="1" height="20" fill="#000"/>
<rect x="764" y="252" width="1" height="41" fill="#000"/>
<rect x="762" y="137" width="5" height="115" fill="#000"/>
<rect x="772" y="188" width="1" height="1" fill="#000"/>
<rect x="772" y="213" width="1" height="8" fill="#000"/>
<rect x="770" y="189" width="5" height="24" fill="#000"/>
<rect x="771" y="190" width="3" height="22" fill="#fff"/>
<rect x="780" y="188" width="1" height="2" fill="#000"/>
<rect x="780" y="205" width="1" height="40" fill="#000"/>
<rect x="778" y="190" width="5" height="15" fill="#000"/>
<rect x="788" y="196" width="1" height="8" fill="#000"/>
<rect x="788" y="223" width="1" height="20" fill="#000"/>
<rect x="786" y="204" width="5" height="19" fill="#000"/>
<rect x="796" y="221" width="1" height="1" fill="#000"/>
<rect x="796" y="264" width="1" height="30" fill="#000"/>
<rect x="794" y="222" width="5" height="42" fill="#000"/>
<rect x="804" y="178" width="1" height="12" fill="#000"/>
<rect x="804" y="264" width="1" height="11" fill="#000"/>
<rect x="802" y="190" width="5" height="74" fill="#000"/>
<rect x="803" y="191" width="3" height="72" fill="#fff"/>
<rect x="812" y="161" width="1" height="16" fill="#000"/>
<rect x="812" y="191" width="1" height="39" fill="#000"/>
<rect x="810" y="177" width="5" height="14" fill="#000"/>
<rect x="811" y="178" width="3" height="12" fill="#fff"/>
<rect x="820" y="200" width="1" height="5" fill="#000"/>
<rect x="818" y="176" width="5" height="24" fill="#000"/>
<rect x="828" y="195" width="1" height="3" fill="#000"/>
<rect x="828" y="220" width="1" height="21" fill="#000"/>
<rect x="826" y="198" width="5" height="22" fill="#000"/>
<rect x="836" y="234" width="1" height="16" fill="#000"/>
<rect x="834" y="218" width="5" height="16" fill="#000"/>
<rect x="844" y="168" width="1" height="9" fill="#000"/>
<rect x="844" y="234" width="1" height="4" fill="#000"/>
<rect x="842" y="177" width="5" height="57" fill="#000"/>
<rect x="843" y="178" width="3" height="55" fill="#fff"/>
<rect x="852" y="138" width="1" height="25" fill="#000"/>
<rect x="852" y="179" width="1" height="16" fill="#000"/>
<rect x="850" y="163" width="5" height="16" fill="#000"/>
<rect x="851" y="164" width="3" height="14" fill="#fff"/>
<rect x="860" y="161" width="1" height="1" fill="#000"/>
<rect x="860" y="183" width="1" height="9" fill="#000"/>
<rect x="858" y="162" width="5" height="21" fill="#000"/>
<rect x="868" y="178" width="1" height="2" fill="#000"/>
<rect x="868" y="183" width="1" height="11" fill="#000"/>
<rect x="866" y="180" width="5" height="3" fill="#000"/>
<rect x="876" y="162" width="1" height="9" fill="#000"/>
<rect x="876" y="180" width="1" height="5" fill="#000"/>
<rect x="874" y="171" width="5" height="9" fill="#000"/>
<rect x="875" y="172" width="3" height="7" fill="#fff"/>
<rect x="884" y="168" width="1" height="3" fill="#000"/>
<rect x="884" y="182" width="1" height="3" fill="#000"/>
<rect x="882" y="171" width="5" height="11" fill="#000"/>
<rect x="892" y="153" width="1" height="21" fill="#000"/>
<rect x="892" y="181" width="1" height="6" fill="#000"/>
<rect x="890" y="174" width="5" height="7" fill="#000"/>
<rect x="891" y="175" width="3" height="5" fill="#fff"/>
<rect x="900" y="154" width="1" height="19" fill="#000"/>
<rect x="900" y="219" width="1" height="9" fill="#000"/>
<rect x="898" y="173" width="5" height="46" fill="#000"/>
<rect x="908" y="194" width="1" height="22" fill="#000"/>
<rect x="908" y="224" width="1" height="8" fill="#000"/>
<rect x="906" y="216" width="5" height="8" fill="#000"/>
<rect x="916" y="208" width="1" height="15" fill="#000"/>
<rect x="916" y="226" width="1" height="10" fill="#000"/>
<rect x="914" y="223" width="5" height="3" fill="#000"/>
<rect x="924" y="198" width="1" height="26" fill="#000"/>
<rect x="924" y="264" width="1" height="11" fill="#000"/>
<rect x="922" y="224" width="5" height="40" fill="#000"/>
<rect x="932" y="222" width="1" height="20" fill="#000"/>
<rect x="932" y="265" width="1" height="4" fill="#000"/>
<rect x="930" y="242" width="5" height="23" fill="#000"/>
<rect x="931" y="243" width="3" height="21" fill="#fff"/>
<rect x="940" y="231" width="1" height="11" fill="#000"/>
<rect x="940" y="284" width="1" height="21" fill="#000"/>
<rect x="938" y="242" width="5" height="42" fill="#000"/>
<rect x="948" y="267" width="1" height="15" fill="#000"/>
<rect x="948" y="301" width="1" height="22" fill="#000"/>
<rect x="946" y="282" width="5" height="19" fill="#000"/>
<rect x="956" y="280" width="1" height="20" fill="#000"/>
<rect x="954" y="300" width="5" height="18" fill="#000"/>
<rect x="964" y="297" width="1" height="19" fill="#000"/>
<rect x="964" y="320" width="1" height="12" fill="#000"/>
<rect x="962" y="316" width="5" height="4" fill="#000"/>
<rect x="972" y="245" width="1" height="25" fill="#000"/>
<rect x="972" y="320" width="1" height="13" fill="#000"/>
<rect x="970" y="270" width="5" height="50" fill="#000"/>
<rect x="971" y="271" width="3" height="48" fill="#fff"/>
<rect x="980" y="254" width="1" height="16" fill="#000"/>
<rect x="980" y="274" width="1" height="12" fill="#000"/>
<rect x="978" y="270" width="5" height="4" fill="#000"/>
<rect x="988" y="241" width="1" height="24" fill="#000"/>
<rect x="988" y="273" width="1" height="4" fill="#000"/>
<rect x="986" y="265" width="5" height="8" fill="#000"/>
<rect x="987" y="266" width="3" height="6" fill="#fff"/>
<rect x="996" y="263" width="1" height="3" fill="#000"/>
<rect x="996" y="269" width="1" height="31" fill="#000"/>
<rect x="994" y="266" width="5" height="3" fill="#000"/>
<rect x="1004" y="266" width="1" height="1" fill="#000"/>
<rect x="1004" y="282" width="1" height="14" fill="#000"/>
<rect x="1002" y="267" width="5" height="15" fill="#000"/>
<rect x="1012" y="295" width="1" height="3" fill="#000"/>
<rect x="1012" y="301" width="1" height="18" fill="#000"/>
<rect x="1010" y="298" width="5" height="3" fill="#000"/>
<rect x="1020" y="272" width="1" height="30" fill="#000"/>
<rect x="1020" y="305" width="1" height="13" fill="#000"/>
<rect x="1018" y="302" width="5" height="3" fill="#000"/>
<rect x="1028" y="288" width="1" height="15" fill="#000"/>
<rect x="1028" y="308" width="1" height="2" fill="#000"/>
<rect x="1026" y="303" width="5" height="5" fill="#000"/>
<rect x="1036" y="300" width="1" height="7" fill="#000"/>
<rect x="1036" y="319" width="1" height="12" fill="#000"/>
<rect x="1034" y="307" width="5" height="12" fill="#000"/>
<rect x="1044" y="303" width="1" height="14" fill="#000"/>
<rect x="1044" y="324" width="1" height="5" fill="#000"/>
<rect x="1042" y="317" width="5" height="7" fill="#000"/>
<rect x="1052" y="320" width="1" height="2" fill="#000"/>
<rect x="1052" y="336" width="1" height="4" fill="#000"/>
<rect x="1050" y="322" width="5" height="14" fill="#000"/>
<rect x="1060" y="321" width="1" height="13" fill="#000"/>
<rect x="1060" y="366" width="1" height="19" fill="#000"/>
<rect x="1058" y="334" width="5" height="32" fill="#000"/>
<rect x="1068" y="330" width="1" height="33" fill="#000"/>
<rect x="1068" y="367" width="1" height="14" fill="#000"/>
<rect x="1066" y="363" width="5" height="4" fill="#000"/>
<rect x="1067" y="364" width="3" height="2" fill="#fff"/>
<rect x="1076" y="333" width="1" height="7" fill="#000"/>
<rect x="1074" y="340" width="5" height="24" fill="#000"/>
<rect x="1075" y="341" width="3" height="22" fill="#fff"/>
<rect x="1084" y="277" width="1" height="2" fill="#000"/>
<rect x="1084" y="341" width="1" height="5" fill="#000"/>
<rect x="1082" y="279" width="5" height="62" fill="#000"/>
<rect x="1083" y="280" width="3" height="60" fill="#fff"/>
<rect x="1092" y="251" width="1" height="30" fill="#000"/>
<rect x="1092" y="285" width="1" height="7" fill="#000"/>
<rect x="1090" y="281" width="5" height="4" fill="#000"/>
<rect x="1100" y="274" width="1" height="8" fill="#000"/>
<rect x="1100" y="285" width="1" height="33" fill="#000"/>
<rect x="1098" y="282" width="5" height="3" fill="#000"/>
<rect x="1099" y="283" width="3" height="1" fill="#fff"/>
<rect x="1108" y="274" width="1" height="3" fill="#000"/>
<rect x="1108" y="283" width="1" height="11" fill="#000"/>
<rect x="1106" y="277" width="5" height="6" fill="#000"/>
<rect x="1107" y="278" width="3" height="4" fill="#fff"/>
<rect x="1116" y="271" width="1" height="6" fill="#000"/>
<rect x="1116" y="291" width="1" height="6" fill="#000"/>
<rect x="1114" y="277" width="5" height="14" fill="#000"/>
<rect x="1124" y="278" width="1" height="5" fill="#000"/>
<rect x="1124" y="291" width="1" height="5" fill="#000"/>
<rect x="1122" y="283" width="5" height="8" fill="#000"/>
<rect x="1123" y="284" width="3" height="6" fill="#fff"/>
<rect x="1132" y="264" width="1" height="13" fill="#000"/>
<rect x="1132" y="283" width="1" height="13" fill="#000"/>
<rect x="1130" y="277" width="5" height="6" fill="#000"/>
<rect x="1131" y="278" width="3" height="4" fill="#fff"/>
<rect x="1140" y="259" width="1" height="19" fill="#000"/>
<rect x="1140" y="290" width="1" height="12" fill="#000"/>
<rect x="1138" y="278" width="5" height="12" fill="#000"/>
<rect x="1148" y="270" width="1" height="18" fill="#000"/>
<rect x="1148" y="302" width="1" height="7" fill="#000"/>
<rect x="1146" y="288" width="5" height="14" fill="#000"/>
<rect x="1156" y="289" width="1" height="10" fill="#000"/>
<rect x="1156" y="313" width="1" height="4" fill="#000"/>
<rect x="1154" y="299" width="5" height="14" fill="#000"/>
<rect x="1164" y="273" width="1" height="40" fill="#000"/>
<rect x="1164" y="349" width="1" height="7" fill="#000"/>
<rect x="1162" y="313" width="5" height="36" fill="#000"/>
<rect x="1172" y="342" width="1" height="6" fill="#000"/>
<rect x="1172" y="363" width="1" height="37" fill="#000"/>
<rect x="1170" y="348" width="5" height="15" fill="#000"/>
<rect x="1180" y="325" width="1" height="6" fill="#000"/>
<rect x="1180" y="362" width="1" height="9" fill="#000"/>
<rect x="1178" y="331" width="5" height="31" fill="#000"/>
<rect x="1179" y="332" width="3" height="29" fill="#fff"/>
<rect x="1188" y="183" width="1" height="3" fill="#000"/>
<rect x="1188" y="333" width="1" height="31" fill="#000"/>
<rect x="1186" y="186" width="5" height="147" fill="#000"/>
<rect x="1187" y="187" width="3" height="145" fill="#fff"/>
<rect x="1196" y="170" width="1" height="1" fill="#000"/>
<rect x="1196" y="187" width="1" height="60" fill="#000"/>
<rect x="1194" y="171" width="5" height="16" fill="#000"/>
<rect x="1195" y="172" width="3" height="14" fill="#fff"/>
<rect x="1204" y="170" width="1" height="1" fill="#000"/>
<rect x="1204" y="196" width="1" height="20" fill="#000"/>
<rect x="1202" y="171" width="5" height="25" fill="#000"/>
<rect x="1212" y="183" width="1" height="12" fill="#000"/>
<rect x="1212" y="252" width="1" height="11" fill="#000"/>
<rect x="1210" y="195" width="5" height="57" fill="#000"/>
<rect x="1220" y="231" width="1" height="13" fill="#000"/>
<rect x="1220" y="252" width="1" height="17" fill="#000"/>
<rect x="1218" y="244" width="5" height="8" fill="#000"/>
<rect x="1219" y="245" width="3" height="6" fill="#fff"/>
<rect x="1228" y="205" width="1" height="5" fill="#000"/>
<rect x="1228" y="244" width="1" height="18" fill="#000"/>
<rect x="1226" y="210" width="5" height="34" fill="#000"/>
<rect x="1227" y="211" width="3" height="32" fill="#fff"/>
<rect x="1236" y="182" width="1" height="10" fill="#000"/>
<rect x="1236" y="212" width="1" height="3" fill="#000"/>
<rect x="1234" y="192" width="5" height="20" fill="#000"/>
<rect x="1235" y="193" width="3" height="18" fill="#fff"/>
<rect x="1244" y="157" width="1" height="31" fill="#000"/>
<rect x="1244" y="193" width="1" height="9" fill="#000"/>
<rect x="1242" y="188" width="5" height="5" fill="#000"/>
<rect x="1243" y="189" width="3" height="3" fill="#fff"/>
<rect x="1252" y="162" width="1" height="28" fill="#000"/>
<rect x="1252" y="199" width="1" height="29" fill="#000"/>
<rect x="1250" y="190" width="5" height="9" fill="#000"/>
<rect x="1251" y="191" width="3" height="7" fill="#fff"/>
<rect x="1260" y="175" width="1" height="14" fill="#000"/>
<rect x="1260" y="202" width="1" height="14" fill="#000"/>
<rect x="1258" y="189" width="5" height="13" fill="#000"/>
<rect x="1268" y="171" width="1" height="29" fill="#000"/>
<rect x="1268" y="207" width="1" height="3" fill="#000"/>
<rect x="1266" y="200" width="5" height="7" fill="#000"/>
<rect x="1276" y="180" width="1" height="17" fill="#000"/>
<rect x="1276" y="205" width="1" height="8" fill="#000"/>
<rect x="1274" y="197" width="5" height="8" fill="#000"/>
<rect x="1275" y="198" width="3" height="6" fill="#fff"/>
<rect x="1284" y="193" width="1" height="4" fill="#000"/>
<rect x="1284" y="267" width="1" height="2" fill="#000"/>
<rect x="1282" y="197" width="5" height="70" fill="#000"/>
<rect x="1292" y="241" width="1" height="24" fill="#000"/>
<rect x="1290" y="265" width="5" height="54" fill="#000"/>
<rect x="1300" y="279" width="1" height="1" fill="#000"/>
<rect x="1300" y="320" width="1" height="1" fill="#000"/>
<rect x="1298" y="280" width="5" height="40" fill="#000"/>
<rect x="1299" y="281" width="3" height="38" fill="#fff"/>
<rect x="1308" y="242" width="1" height="25" fill="#000"/>
<rect x="1308" y="279" width="1" height="18" fill="#000"/>
<rect x="1306" y="267" width="5" height="12" fill="#000"/>
<rect x="1307" y="268" width="3" height="10" fill="#fff"/>
<rect x="1316" y="262" width="1" height="5" fill="#000"/>
<rect x="1316" y="290" width="1" height="7" fill="#000"/>
<rect x="1314" y="267" width="5" height="23" fill="#000"/>
<rect x="1324" y="283" width="1" height="5" fill="#000"/>
<rect x="1324" y="330" width="1" height="11" fill="#000"/>
<rect x="1322" y="288" width="5" height="42" fill="#000"/>
<rect x="1332" y="303" width="1" height="25" fill="#000"/>
<rect x="1332" y="331" width="1" height="17" fill="#000"/>
<rect x="1330" y="328" width="5" height="3" fill="#000"/>
<rect x="1340" y="307" width="1" height="13" fill="#000"/>
<rect x="1340" y="331" width="1" height="17" fill="#000"/>
<rect x="1338" y="320" width="5" height="11" fill="#000"/>
<rect x="1339" y="321" width="3" height="9" fill="#fff"/>
<rect x="1348" y="308" width="1" height="12" fill="#000"/>
<rect x="1348" y="323" width="1" height="9" fill="#000"/>
<rect x="1346" y="320" width="5" height="3" fill="#000"/>
<rect x="1356" y="280" width="1" height="7" fill="#000"/>
<rect x="1356" y="323" width="1" height="5" fill="#000"/>
<rect x="1354" y="287" width="5" height="36" fill="#000"/>
<rect x="1355" y="288" width="3" height="34" fill="#fff"/>
<rect x="1364" y="263" width="1" height="4" fill="#000"/>
<rect x="1364" y="288" width="1" height="5" fill="#000"/>
<rect x="1362" y="267" width="5" height="21" fill="#000"/>
<rect x="1363" y="268" width="3" height="19" fill="#fff"/>
<rect x="1372" y="242" width="1" height="9" fill="#000"/>
<rect x="1372" y="268" width="1" height="5" fill="#000"/>
<rect x="1370" y="251" width="5" height="17" fill="#000"/>
<rect x="1371" y="252" width="3" height="15" fill="#fff"/>
<rect x="1380" y="192" width="1" height="1" fill="#000"/>
<rect x="1378" y="193" width="5" height="60" fill="#000"/>
<rect x="1379" y="194" width="3" height="58" fill="#fff"/>
<rect x="1388" y="171" width="1" height="19" fill="#000"/>
<rect x="1388" y="194" width="1" height="8" fill="#000"/>
<rect x="1386" y="190" width="5" height="4" fill="#000"/>
<rect x="1387" y="191" width="3" height="2" fill="#fff"/>
<rect x="1396" y="189" width="1" height="2" fill="#000"/>
<rect x="1396" y="204" width="1" height="13" fill="#000"/>
<rect x="1394" y="191" width="5" height="13" fill="#000"/>
<rect x="1404" y="178" width="1" height="4" fill="#000"/>
<rect x="1404" y="204" width="1" height="4" fill="#000"/>
<rect x="1402" y="182" width="5" height="22" fill="#000"/>
<rect x="1403" y="183" width="3" height="20" fill="#fff"/>
<rect x="1412" y="162" width="1" height="3" fill="#000"/>
<rect x="1410" y="165" width="5" height="19" fill="#000"/>
<rect x="1411" y="166" width="3" height="17" fill="#fff"/>
<rect x="1420" y="149" width="1" height="1" fill="#000"/>
<rect x="1420" y="166" width="1" height="13" fill="#000"/>
<rect x="1418" y="150" width="5" height="16" fill="#000"/>
<rect x="1419" y="151" width="3" height="14" fill="#fff"/>
<rect x="1428" y="157" width="1" height="1" fill="#000"/>
<rect x="1428" y="182" width="1" height="23" fill="#000"/>
<rect x="1426" y="158" width="5" height="24" fill="#000"/>
<rect x="1436" y="172" width="1" height="8" fill="#000"/>
<rect x="1436" y="218" width="1" height="2" fill="#000"/>
<rect x="1434" y="180" width="5" height="38" fill="#000"/>
<rect x="1444" y="211" width="1" height="3" fill="#000"/>
<rect x="1444" y="220" width="1" height="6" fill="#000"/>
<rect x="1442" y="214" width="5" height="6" fill="#000"/>
<rect x="1443" y="215" width="3" height="4" fill="#fff"/>
<rect x="0" y="27" width="1656" height="1" fill="#000"/>
<rect x="0" y="580" width="1656" height="1" fill="#000"/>
<rect x="0" y="582" width="1656" height="1" fill="#000"/>
<rect x="0" y="752" width="1656" height="1" fill="#000"/>
<rect x="0" y="754" width="1656" height="1" fill="#000"/>
<rect x="0" y="928" width="1656" height="1" fill="#000"/>
<rect x="1655" y="27" width="1" height="554" fill="#000"/>
<rect x="1655" y="582" width="1" height="171" fill="#000"/>
<rect x="1655" y="754" width="1" height="175" fill="#000"/>
<rect x="1656" y="49" width="2" height="1" fill="#000"/>
<text transform="translate(1661.5,53) scale(0.95,1)" font-size="10" fill="#000" font-weight="normal" text-anchor="start">116.365</text>
<rect x="1656" y="82" width="2" height="1" fill="#000"/>
<text transform="translate(1661.5,86) scale(0.95,1)" font-size="10" fill="#000" font-weight="normal" text-anchor="start">116.180</text>
<rect x="1656" y="115" width="2" height="1" fill="#000"/>
<text transform="translate(1661.5,119) scale(0.95,1)" font-size="10" fill="#000" font-weight="normal" text-anchor="start">115.995</text>
<rect x="1656" y="148" width="2" height="1" fill="#000"/>
<text transform="translate(1661.5,152) scale(0.95,1)" font-size="10" fill="#000" font-weight="normal" text-anchor="start">115.810</text>
<rect x="1656" y="181" width="2" height="1" fill="#000"/>
<text transform="translate(1661.5,185) scale(0.95,1)" font-size="10" fill="#000" font-weight="normal" text-anchor="start">115.625</text>
<rect x="1656" y="214" width="2" height="1" fill="#000"/>
<text transform="translate(1661.5,218) scale(0.95,1)" font-size="10" fill="#000" font-weight="normal" text-anchor="start">115.440</text>
<rect x="1656" y="247" width="2" height="1" fill="#000"/>
<text transform="translate(1661.5,251) scale(0.95,1)" font-size="10" fill="#000" font-weight="normal" text-anchor="start">115.255</text>
<rect x="1656" y="280" width="2" height="1" fill="#000"/>
<text transform="translate(1661.5,284) scale(0.95,1)" font-size="10" fill="#000" font-weight="normal" text-anchor="start">115.070</text>
<rect x="1656" y="313" width="2" height="1" fill="#000"/>
<text transform="translate(1661.5,317) scale(0.95,1)" font-size="10" fill="#000" font-weight="normal" text-anchor="start">114.885</text>
<rect x="1656" y="346" width="2" height="1" fill="#000"/>
<text transform="translate(1661.5,350) scale(0.95,1)" font-size="10" fill="#000" font-weight="normal" text-anchor="start">114.700</text>
<rect x="1656" y="379" width="2" height="1" fill="#000"/>
<text transform="translate(1661.5,383) scale(0.95,1)" font-size="10" fill="#000" font-weight="normal" text-anchor="start">114.515</text>
<rect x="1656" y="412" width="2" height="1" fill="#000"/>
<text transform="translate(1661.5,416) scale(0.95,1)" font-size="10" fill="#000" font-weight="normal" text-anchor="start">114.330</text>
<rect x="1656" y="445" width="2" height="1" fill="#000"/>
<text transform="translate(1661.5,449) scale(0.95,1)" font-size="10" fill="#000" font-weight="normal" text-anchor="start">114.145</text>
<rect x="1656" y="478" width="2" height="1" fill="#000"/>
<text transform="translate(1661.5,482) scale(0.95,1)" font-size="10" fill="#000" font-weight="normal" text-anchor="start">113.960</text>
<rect x="1656" y="511" width="2" height="1" fill="#000"/>
<text transform="translate(1661.5,515) scale(0.95,1)" font-size="10" fill="#000" font-weight="normal" text-anchor="start">113.775</text>
<rect x="1656" y="544" width="2" height="1" fill="#000"/>
<text transform="translate(1661.5,548) scale(0.95,1)" font-size="10" fill="#000" font-weight="normal" text-anchor="start">113.590</text>
<rect x="1656" y="577" width="2" height="1" fill="#000"/>
<text transform="translate(1661.5,581) scale(0.95,1)" font-size="10" fill="#000" font-weight="normal" text-anchor="start">113.405</text>
<rect x="1657" y="125" width="41" height="11" fill="#ff0000"/>
<text transform="translate(1661.5,134) scale(0.95,1)" font-size="10" fill="#fff" font-weight="normal" text-anchor="start">115.903</text>
<rect x="1657" y="159" width="41" height="11" fill="#ff0000"/>
<text transform="translate(1661.5,168) scale(0.95,1)" font-size="10" fill="#fff" font-weight="normal" text-anchor="start">115.713</text>
<rect x="1657" y="207" width="41" height="11" fill="#000000"/>
<text transform="translate(1661.5,216) scale(0.95,1)" font-size="10" fill="#fff" font-weight="normal" text-anchor="start">115.440</text>
<rect x="1657" y="216" width="41" height="11" fill="#32cd32"/>
<text transform="translate(1661.5,225) scale(0.95,1)" font-size="10" fill="#fff" font-weight="normal" text-anchor="start">115.394</text>
<rect x="1657" y="247" width="41" height="11" fill="#0000ff"/>
<text transform="translate(1661.5,256) scale(0.95,1)" font-size="10" fill="#fff" font-weight="normal" text-anchor="start">115.220</text>
<rect x="1657" y="280" width="41" height="11" fill="#0000ff"/>
<text transform="translate(1661.5,289) scale(0.95,1)" font-size="10" fill="#fff" font-weight="normal" text-anchor="start">115.036</text>
<rect x="698" y="56" width="10" height="1" fill="#ff0000"/>
<rect x="637.5" y="47.5" width="61" height="18" fill="#fff" stroke="#ff0000" stroke-width="1"/>
<text x="640" y="63" font-size="17" fill="#ff0000" font-weight="normal" textLength="57" lengthAdjust="spacingAndGlyphs">116.327</text>
<rect x="1085" y="222" width="10" height="1" fill="#ff0000"/>
<rect x="1095.5" y="210.5" width="73" height="24" fill="#fff" stroke="#ff0000" stroke-width="1"/>
<text x="1097.6" y="231" font-size="22" fill="#ff0000" font-weight="normal" textLength="69.5" lengthAdjust="spacingAndGlyphs">115.394</text>
<rect x="1234" y="157" width="10" height="1" fill="#ff0000"/>
<rect x="1174.5" y="148.5" width="60" height="18" fill="#fff" stroke="#ff0000" stroke-width="1"/>
<text x="1176.5" y="164" font-size="17" fill="#ff0000" font-weight="normal" textLength="57" lengthAdjust="spacingAndGlyphs">115.758</text>
<rect x="1410" y="149" width="10" height="1" fill="#ff0000"/>
<rect x="1349.5" y="140.5" width="61" height="18" fill="#fff" stroke="#ff0000" stroke-width="1"/>
<text x="1352" y="156" font-size="17" fill="#ff0000" font-weight="normal" textLength="57" lengthAdjust="spacingAndGlyphs">115.803</text>
<rect x="1330" y="348" width="2" height="1" fill="#ff0000"/>
<rect x="1269.5" y="340.5" width="61" height="18" fill="#fff" stroke="#ff0000" stroke-width="1"/>
<text x="1272" y="356" font-size="17" fill="#ff0000" font-weight="normal" textLength="57" lengthAdjust="spacingAndGlyphs">114.683</text>
<path d="M0,38.5 L3,34.5 L6,38.5 Z" fill="#000"/>
<text transform="translate(11.2,39) scale(0.945,1)" font-size="10" fill="#000" font-weight="normal" text-anchor="start">USDJPY-,H4&#160;&#160;115.410 115.456 115.376 115.440</text>
<path d="M0,47 H51 V71 H0 Z" fill="url(#gSellTop)"/>
<path d="M166,47 H218 V71 H166 Z" fill="url(#gSellTop)"/>
<rect x="0" y="71" width="108" height="33" fill="url(#gSellBot)"/>
<rect x="110" y="71" width="108" height="33" fill="url(#gSellBot)"/>
<rect x="0" y="47" width="51" height="1" fill="#c41818"/>
<rect x="166" y="47" width="52" height="1" fill="#c41818"/>
<rect x="3" y="70" width="44" height="1" fill="#8a0000"/>
<rect x="3" y="71" width="44" height="1" fill="#f07070"/>
<rect x="170" y="70" width="44" height="1" fill="#8a0000"/>
<rect x="170" y="71" width="44" height="1" fill="#f07070"/>
<text x="11.1" y="63" font-size="12" fill="#fff" font-weight="normal" textLength="25.6" lengthAdjust="spacingAndGlyphs">SELL</text>
<text x="179.7" y="63" font-size="12" fill="#fff" font-weight="normal" textLength="23" lengthAdjust="spacingAndGlyphs">BUY</text>
<rect x="53" y="47" width="111" height="22" fill="#a8a8a8"/>
<rect x="54" y="48" width="109" height="20" fill="#ffffff"/>
<rect x="54" y="48" width="20" height="20" fill="url(#gBtn)"/>
<rect x="143" y="48" width="20" height="20" fill="url(#gBtn)"/>
<rect x="74" y="48" width="1" height="20" fill="#b0b0b0"/>
<rect x="142" y="48" width="1" height="20" fill="#b0b0b0"/>
<path d="M61,56 h6 l-3,3 z" fill="#4058c0"/>
<path d="M150,59 h6 l-3,-3 z" fill="#4058c0"/>
<text x="115.6" y="62" font-size="12" fill="#000" font-weight="normal" textLength="22.9" lengthAdjust="spacingAndGlyphs">1.00</text>
<text x="22.3" y="99.2" font-size="12.4" fill="#fff" font-weight="bold" textLength="20.4" lengthAdjust="spacingAndGlyphs">115</text>
<text x="46.4" y="99.3" font-size="34" fill="#fff" font-weight="normal" textLength="34.5" lengthAdjust="spacingAndGlyphs">44</text>
<text x="86" y="83.2" font-size="11.6" fill="#fff" font-weight="bold" textLength="6.7" lengthAdjust="spacingAndGlyphs">0</text>
<text x="132.6" y="99.2" font-size="12.4" fill="#fff" font-weight="bold" textLength="19.7" lengthAdjust="spacingAndGlyphs">115</text>
<text x="157.1" y="99.3" font-size="34" fill="#fff" font-weight="normal" textLength="34.8" lengthAdjust="spacingAndGlyphs">48</text>
<text x="197.1" y="83.2" font-size="11.6" fill="#fff" font-weight="bold" textLength="6.7" lengthAdjust="spacingAndGlyphs">6</text>
<text transform="translate(0,595) scale(0.98,1)" font-size="9.6" fill="#000" font-weight="normal" text-anchor="start">MACD(12,26,9) 0.1094 0.0843</text>
<rect x="4" y="689" width="1" height="33" fill="#c0c0c0"/>
<rect x="12" y="689" width="1" height="40" fill="#c0c0c0"/>
<rect x="20" y="689" width="1" height="43" fill="#c0c0c0"/>
<rect x="28" y="689" width="1" height="47" fill="#c0c0c0"/>
<rect x="36" y="689" width="1" height="51" fill="#c0c0c0"/>
<rect x="44" y="689" width="1" height="55" fill="#c0c0c0"/>
<rect x="52" y="689" width="1" height="53" fill="#c0c0c0"/>
<rect x="60" y="689" width="1" height="52" fill="#c0c0c0"/>
<rect x="68" y="689" width="1" height="51" fill="#c0c0c0"/>
<rect x="76" y="689" width="1" height="50" fill="#c0c0c0"/>
<rect x="84" y="689" width="1" height="44" fill="#c0c0c0"/>
<rect x="92" y="689" width="1" height="43" fill="#c0c0c0"/>
<rect x="100" y="689" width="1" height="37" fill="#c0c0c0"/>
<rect x="108" y="689" width="1" height="37" fill="#c0c0c0"/>
<rect x="116" y="689" width="1" height="35" fill="#c0c0c0"/>
<rect x="124" y="689" width="1" height="30" fill="#c0c0c0"/>
<rect x="132" y="689" width="1" height="27" fill="#c0c0c0"/>
<rect x="140" y="689" width="1" height="23" fill="#c0c0c0"/>
<rect x="148" y="689" width="1" height="23" fill="#c0c0c0"/>
<rect x="156" y="689" width="1" height="21" fill="#c0c0c0"/>
<rect x="164" y="689" width="1" height="18" fill="#c0c0c0"/>
<rect x="172" y="689" width="1" height="12" fill="#c0c0c0"/>
<rect x="180" y="689" width="1" height="3" fill="#c0c0c0"/>
<rect x="188" y="684" width="1" height="6" fill="#c0c0c0"/>
<rect x="196" y="672" width="1" height="18" fill="#c0c0c0"/>
<rect x="204" y="664" width="1" height="26" fill="#c0c0c0"/>
<rect x="212" y="656" width="1" height="34" fill="#c0c0c0"/>
<rect x="220" y="642" width="1" height="48" fill="#c0c0c0"/>
<rect x="228" y="626" width="1" height="64" fill="#c0c0c0"/>
<rect x="236" y="617" width="1" height="73" fill="#c0c0c0"/>
<rect x="244" y="611" width="1" height="79" fill="#c0c0c0"/>
<rect x="252" y="606" width="1" height="84" fill="#c0c0c0"/>
<rect x="260" y="598" width="1" height="92" fill="#c0c0c0"/>
<rect x="268" y="592" width="1" height="98" fill="#c0c0c0"/>
<rect x="276" y="598" width="1" height="92" fill="#c0c0c0"/>
<rect x="284" y="603" width="1" height="87" fill="#c0c0c0"/>
<rect x="292" y="607" width="1" height="83" fill="#c0c0c0"/>
<rect x="300" y="606" width="1" height="84" fill="#c0c0c0"/>
<rect x="308" y="608" width="1" height="82" fill="#c0c0c0"/>
<rect x="316" y="609" width="1" height="81" fill="#c0c0c0"/>
<rect x="324" y="616" width="1" height="74" fill="#c0c0c0"/>
<rect x="332" y="627" width="1" height="63" fill="#c0c0c0"/>
<rect x="340" y="634" width="1" height="56" fill="#c0c0c0"/>
<rect x="348" y="643" width="1" height="47" fill="#c0c0c0"/>
<rect x="356" y="651" width="1" height="39" fill="#c0c0c0"/>
<rect x="364" y="664" width="1" height="26" fill="#c0c0c0"/>
<rect x="372" y="672" width="1" height="18" fill="#c0c0c0"/>
<rect x="380" y="680" width="1" height="10" fill="#c0c0c0"/>
<rect x="388" y="685" width="1" height="5" fill="#c0c0c0"/>
<rect x="396" y="688" width="1" height="2" fill="#c0c0c0"/>
<rect x="404" y="689" width="1" height="4" fill="#c0c0c0"/>
<rect x="412" y="689" width="1" height="14" fill="#c0c0c0"/>
<rect x="420" y="689" width="1" height="21" fill="#c0c0c0"/>
<rect x="428" y="689" width="1" height="27" fill="#c0c0c0"/>
<rect x="436" y="689" width="1" height="30" fill="#c0c0c0"/>
<rect x="444" y="689" width="1" height="32" fill="#c0c0c0"/>
<rect x="452" y="689" width="1" height="30" fill="#c0c0c0"/>
<rect x="460" y="689" width="1" height="23" fill="#c0c0c0"/>
<rect x="468" y="689" width="1" height="16" fill="#c0c0c0"/>
<rect x="476" y="689" width="1" height="10" fill="#c0c0c0"/>
<rect x="484" y="689" width="1" height="4" fill="#c0c0c0"/>
<rect x="500" y="684" width="1" height="6" fill="#c0c0c0"/>
<rect x="508" y="684" width="1" height="6" fill="#c0c0c0"/>
<rect x="516" y="676" width="1" height="14" fill="#c0c0c0"/>
<rect x="524" y="670" width="1" height="20" fill="#c0c0c0"/>
<rect x="532" y="666" width="1" height="24" fill="#c0c0c0"/>
<rect x="540" y="662" width="1" height="28" fill="#c0c0c0"/>
<rect x="548" y="660" width="1" height="30" fill="#c0c0c0"/>
<rect x="556" y="665" width="1" height="25" fill="#c0c0c0"/>
<rect x="564" y="667" width="1" height="23" fill="#c0c0c0"/>
<rect x="572" y="668" width="1" height="22" fill="#c0c0c0"/>
<rect x="580" y="670" width="1" height="20" fill="#c0c0c0"/>
<rect x="588" y="665" width="1" height="25" fill="#c0c0c0"/>
<rect x="596" y="660" width="1" height="30" fill="#c0c0c0"/>
<rect x="604" y="659" width="1" height="31" fill="#c0c0c0"/>
<rect x="612" y="653" width="1" height="37" fill="#c0c0c0"/>
<rect x="620" y="650" width="1" height="40" fill="#c0c0c0"/>
<rect x="628" y="649" width="1" height="41" fill="#c0c0c0"/>
<rect x="636" y="650" width="1" height="40" fill="#c0c0c0"/>
<rect x="644" y="652" width="1" height="38" fill="#c0c0c0"/>
<rect x="652" y="653" width="1" height="37" fill="#c0c0c0"/>
<rect x="660" y="654" width="1" height="36" fill="#c0c0c0"/>
<rect x="668" y="655" width="1" height="35" fill="#c0c0c0"/>
<rect x="676" y="653" width="1" height="37" fill="#c0c0c0"/>
<rect x="684" y="654" width="1" height="36" fill="#c0c0c0"/>
<rect x="692" y="654" width="1" height="36" fill="#c0c0c0"/>
<rect x="700" y="650" width="1" height="40" fill="#c0c0c0"/>
<rect x="708" y="644" width="1" height="46" fill="#c0c0c0"/>
<rect x="716" y="641" width="1" height="49" fill="#c0c0c0"/>
<rect x="724" y="637" width="1" height="53" fill="#c0c0c0"/>
<rect x="732" y="632" width="1" height="58" fill="#c0c0c0"/>
<rect x="740" y="632" width="1" height="58" fill="#c0c0c0"/>
<rect x="748" y="632" width="1" height="58" fill="#c0c0c0"/>
<rect x="756" y="636" width="1" height="54" fill="#c0c0c0"/>
<rect x="764" y="651" width="1" height="39" fill="#c0c0c0"/>
<rect x="772" y="657" width="1" height="33" fill="#c0c0c0"/>
<rect x="780" y="664" width="1" height="26" fill="#c0c0c0"/>
<rect x="788" y="672" width="1" height="18" fill="#c0c0c0"/>
<rect x="796" y="682" width="1" height="8" fill="#c0c0c0"/>
<rect x="804" y="683" width="1" height="7" fill="#c0c0c0"/>
<rect x="812" y="682" width="1" height="8" fill="#c0c0c0"/>
<rect x="820" y="683" width="1" height="7" fill="#c0c0c0"/>
<rect x="828" y="687" width="1" height="3" fill="#c0c0c0"/>
<rect x="852" y="685" width="1" height="5" fill="#c0c0c0"/>
<rect x="860" y="684" width="1" height="6" fill="#c0c0c0"/>
<rect x="868" y="685" width="1" height="5" fill="#c0c0c0"/>
<rect x="876" y="682" width="1" height="8" fill="#c0c0c0"/>
<rect x="884" y="682" width="1" height="8" fill="#c0c0c0"/>
<rect x="892" y="682" width="1" height="8" fill="#c0c0c0"/>
<rect x="900" y="686" width="1" height="4" fill="#c0c0c0"/>
<rect x="916" y="689" width="1" height="3" fill="#c0c0c0"/>
<rect x="924" y="689" width="1" height="10" fill="#c0c0c0"/>
<rect x="932" y="689" width="1" height="13" fill="#c0c0c0"/>
<rect x="940" y="689" width="1" height="20" fill="#c0c0c0"/>
<rect x="948" y="689" width="1" height="27" fill="#c0c0c0"/>
<rect x="956" y="689" width="1" height="34" fill="#c0c0c0"/>
<rect x="964" y="689" width="1" height="39" fill="#c0c0c0"/>
<rect x="972" y="689" width="1" height="37" fill="#c0c0c0"/>
<rect x="980" y="689" width="1" height="36" fill="#c0c0c0"/>
<rect x="988" y="689" width="1" height="34" fill="#c0c0c0"/>
<rect x="996" y="689" width="1" height="32" fill="#c0c0c0"/>
<rect x="1004" y="689" width="1" height="31" fill="#c0c0c0"/>
<rect x="1012" y="689" width="1" height="33" fill="#c0c0c0"/>
<rect x="1020" y="689" width="1" height="34" fill="#c0c0c0"/>
<rect x="1028" y="689" width="1" height="36" fill="#c0c0c0"/>
<rect x="1036" y="689" width="1" height="36" fill="#c0c0c0"/>
<rect x="1044" y="689" width="1" height="37" fill="#c0c0c0"/>
<rect x="1052" y="689" width="1" height="39" fill="#c0c0c0"/>
<rect x="1060" y="689" width="1" height="43" fill="#c0c0c0"/>
<rect x="1068" y="689" width="1" height="47" fill="#c0c0c0"/>
<rect x="1076" y="689" width="1" height="46" fill="#c0c0c0"/>
<rect x="1084" y="689" width="1" height="38" fill="#c0c0c0"/>
<rect x="1092" y="689" width="1" height="32" fill="#c0c0c0"/>
<rect x="1100" y="689" width="1" height="26" fill="#c0c0c0"/>
<rect x="1108" y="689" width="1" height="21" fill="#c0c0c0"/>
<rect x="1116" y="689" width="1" height="19" fill="#c0c0c0"/>
<rect x="1124" y="689" width="1" height="15" fill="#c0c0c0"/>
<rect x="1132" y="689" width="1" height="12" fill="#c0c0c0"/>
<rect x="1140" y="689" width="1" height="11" fill="#c0c0c0"/>
<rect x="1148" y="689" width="1" height="11" fill="#c0c0c0"/>
<rect x="1156" y="689" width="1" height="12" fill="#c0c0c0"/>
<rect x="1164" y="689" width="1" height="16" fill="#c0c0c0"/>
<rect x="1172" y="689" width="1" height="22" fill="#c0c0c0"/>
<rect x="1180" y="689" width="1" height="22" fill="#c0c0c0"/>
<rect x="1188" y="689" width="1" height="6" fill="#c0c0c0"/>
<rect x="1196" y="682" width="1" height="8" fill="#c0c0c0"/>
<rect x="1204" y="674" width="1" height="16" fill="#c0c0c0"/>
<rect x="1212" y="673" width="1" height="17" fill="#c0c0c0"/>
<rect x="1220" y="672" width="1" height="18" fill="#c0c0c0"/>
<rect x="1228" y="668" width="1" height="22" fill="#c0c0c0"/>
<rect x="1236" y="663" width="1" height="27" fill="#c0c0c0"/>
<rect x="1244" y="659" width="1" height="31" fill="#c0c0c0"/>
<rect x="1252" y="657" width="1" height="33" fill="#c0c0c0"/>
<rect x="1260" y="656" width="1" height="34" fill="#c0c0c0"/>
<rect x="1268" y="657" width="1" height="33" fill="#c0c0c0"/>
<rect x="1276" y="657" width="1" height="33" fill="#c0c0c0"/>
<rect x="1284" y="665" width="1" height="25" fill="#c0c0c0"/>
<rect x="1292" y="677" width="1" height="13" fill="#c0c0c0"/>
<rect x="1300" y="682" width="1" height="8" fill="#c0c0c0"/>
<rect x="1308" y="685" width="1" height="5" fill="#c0c0c0"/>
<rect x="1324" y="689" width="1" height="8" fill="#c0c0c0"/>
<rect x="1332" y="689" width="1" height="15" fill="#c0c0c0"/>
<rect x="1340" y="689" width="1" height="19" fill="#c0c0c0"/>
<rect x="1348" y="689" width="1" height="22" fill="#c0c0c0"/>
<rect x="1356" y="689" width="1" height="20" fill="#c0c0c0"/>
<rect x="1364" y="689" width="1" height="16" fill="#c0c0c0"/>
<rect x="1372" y="689" width="1" height="11" fill="#c0c0c0"/>
<rect x="1388" y="682" width="1" height="8" fill="#c0c0c0"/>
<rect x="1396" y="677" width="1" height="13" fill="#c0c0c0"/>
<rect x="1404" y="671" width="1" height="19" fill="#c0c0c0"/>
<rect x="1412" y="665" width="1" height="25" fill="#c0c0c0"/>
<rect x="1420" y="659" width="1" height="31" fill="#c0c0c0"/>
<rect x="1428" y="658" width="1" height="32" fill="#c0c0c0"/>
<rect x="1436" y="661" width="1" height="29" fill="#c0c0c0"/>
<rect x="1444" y="663" width="1" height="27" fill="#c0c0c0"/>
<polyline points="0,708.5 1.8,709.2 8.9,712.8 17.9,716.3 26.8,719.9 35.8,724.4 44.7,727.6 53.7,731.6 60.9,735.1 71.6,737.8 80.5,738.7 89.5,739.3 100.2,738.4 107.4,736 116.3,734.2 125.3,730.7 134.2,728 143.2,725.3 152.1,721.7 161.1,719 171.8,715.5 179,711.9 187.9,706.5 196.9,701.1 205.8,694 214.8,685.9 223.7,677.9 232.7,667.1 241.6,656.4 250.6,644.8 259.5,634 268.5,623.3 277.4,615.2 286.4,608.1 295.3,604.1 306.6,602.3 317.2,602.3 324.2,603.2 331.3,605.9 340.1,611.2 348.9,616.4 357.7,623.5 366.5,630.5 375.3,639.4 384.1,648.2 393,657 401.8,664 410.6,672.8 419.4,681.7 428.2,690.5 437,696.6 444.1,700.7 454.6,707.2 463.5,709.9 472.3,711.6 477.6,712.5 484.6,711.6 489.9,709.5 498.7,705.5 507.5,701.1 516.4,696.6 525.2,689.6 534,683.4 542.8,678.1 551.6,673.7 560.4,671.1 569.2,668.4 578,666.7 586.9,665.4 593.9,664.4 600.8,663.8 611.4,662.6 620.2,660.8 629,659.4 636.1,657.3 644.9,655.5 653.7,653.8 662.5,652.4 671.3,652.4 680.1,651.5 689,651.6 697.8,652.4 706.6,651.5 715.4,650.2 724.2,648.5 733,646.2 741.8,642.7 750.6,641.1 759.5,638.4 768.3,638.4 777.1,640.2 785.9,643.7 794.7,649 803.5,654.6 812.3,661.7 821.2,667.9 830,674 838.8,679 847.6,681.1 856.4,683.7 865.2,684.6 874,684.6 891.7,684.4 902.1,684.4 918,684.4 923.3,686.2 932.1,688.5 940.9,691.5 949.7,695.5 958.5,701.3 965.6,706.1 972.6,710.2 981.4,714.9 990.2,717.6 1000.8,720.2 1011.4,722.8 1025.5,723.7 1037.8,723.2 1048.4,723.7 1057.2,725.5 1067.8,726.7 1078.4,728.1 1090.7,728.1 1099.5,727.3 1110.1,726 1117.2,723.7 1126,720.2 1134.8,715.8 1143.6,711.4 1152.4,708.7 1161.2,706.6 1170,704.7 1178.9,705.2 1187.7,703.5 1192.8,701.9 1201.6,697.9 1210.4,695.2 1219.3,691.7 1228.1,688.2 1236.9,683.8 1245.7,676.7 1254.5,669.7 1259.8,667 1266.8,665.3 1272.1,663 1281,661.7 1289.8,661.4 1295.1,661.7 1298.6,663.1 1307.4,664.9 1316.2,668.8 1325,673.7 1333.8,679.4 1342.6,685.5 1349.7,690.8 1355,694.3 1360.3,697 1365.6,699.1 1370.9,701 1377.9,701.4 1385,700.5 1392,698.7 1400.8,695.2 1409.6,690.8 1418.4,685.5 1427.2,679.4 1436.1,673.2 1444,668.8" fill="none" stroke="#ff0000" stroke-width="1" stroke-dasharray="3,2" shape-rendering="crispEdges"/>
<rect x="1656" y="584" width="2" height="1" fill="#000"/>
<text transform="translate(1659,594) scale(0.95,1)" font-size="10" fill="#000" font-weight="normal" text-anchor="start">0.4297</text>
<rect x="1656" y="689" width="2" height="1" fill="#000"/>
<text transform="translate(1659,693) scale(0.95,1)" font-size="10" fill="#000" font-weight="normal" text-anchor="start">0.00</text>
<text transform="translate(1659,750) scale(0.95,1)" font-size="10" fill="#000" font-weight="normal" text-anchor="start">-0.2518</text>
<text transform="translate(0,767) scale(0.98,1)" font-size="9.6" fill="#000" font-weight="normal" text-anchor="start">RSI(14) 53.3198</text>
<line x1="3" y1="790.5" x2="1655" y2="790.5" stroke="#c0c0c0" stroke-dasharray="4,4"/>
<line x1="3" y1="841.5" x2="1655" y2="841.5" stroke="#c0c0c0" stroke-dasharray="4,4"/>
<line x1="3" y1="902.5" x2="1655" y2="902.5" stroke="#c0c0c0" stroke-dasharray="4,4"/>
<polyline points="0,857.6 4.5,862.1 12.5,870.4 20.5,864.6 28.5,864.6 36.5,870.4 44.5,870.4 52.5,862 60.5,857.6 68.5,862 76.5,858.4 84.5,850.5 92.5,857.2 100.5,844.3 108.5,855.4 116.5,849.6 124.5,843.1 132.5,844.9 140.5,847 148.5,848.2 156.5,850.5 164.5,842 172.5,831.1 180.5,825.5 188.5,818.4 196.5,810.8 204.5,815.3 212.5,811.4 220.5,799 228.5,794.5 236.5,802.6 244.5,801.5 252.5,801.5 260.5,795.5 268.5,795.5 276.5,823.2 284.5,822.3 292.5,820.5 300.5,813.1 308.5,817 316.5,815.3 324.5,829.4 332.5,839.9 340.5,835.5 348.5,840.8 356.5,843.1 364.5,854.9 372.5,847.3 380.5,851.4 388.5,849.1 396.5,847.3 404.5,852.3 412.5,862.8 420.5,861.4 428.5,861.4 436.5,861.4 444.5,859.3 452.5,848.7 460.5,836.4 468.5,832.9 476.5,831.5 484.5,830.6 492.5,833.2 500.5,824.4 508.5,838.2 516.5,821.4 524.5,822.3 532.5,824.4 540.5,821.4 548.5,824.9 556.5,840.8 564.5,836.4 572.5,836.4 580.5,836.4 588.5,823.2 596.5,818.4 604.5,827.9 612.5,818.4 620.5,821.4 628.5,821.4 636.5,829.4 644.5,829.4 652.5,827.9 660.5,826.4 668.5,826.4 676.5,819.7 684.5,824.4 692.5,821.4 700.5,811.4 708.5,806.4 716.5,809.6 724.5,805 732.5,801.5 740.5,812.1 748.5,813.5 756.5,823.2 764.5,858.4 772.5,841.7 780.5,845.2 788.5,848.7 796.5,857.2 804.5,840.8 812.5,837.3 820.5,841.7 828.5,845.6 836.5,849.3 844.5,836.4 852.5,833.2 860.5,838.2 868.5,838.2 876.5,835.5 884.5,838.5 892.5,836.4 900.5,848.4 908.5,850.5 916.5,850.5 924.5,860.2 932.5,853.2 940.5,861.4 948.5,865.5 956.5,869.4 964.5,869.4 972.5,852.3 980.5,853.2 988.5,850.5 996.5,851.4 1004.5,854.9 1012.5,860.2 1020.5,861.4 1028.5,862.5 1036.5,865.5 1044.5,866.4 1052.5,869.9 1060.5,878.4 1068.5,877 1076.5,863.7 1084.5,839.6 1092.5,841.3 1100.5,840.3 1108.5,838.2 1116.5,844.3 1124.5,840.3 1132.5,838.2 1140.5,843.5 1148.5,848.4 1156.5,853.2 1164.5,866 1172.5,869.4 1180.5,855.8 1188.5,813.8 1196.5,812.3 1204.5,820.2 1212.5,836.1 1220.5,834.3 1228.5,826.7 1236.5,823.2 1244.5,822.3 1252.5,823.2 1260.5,827.2 1268.5,828.5 1276.5,826.2 1284.5,847.9 1292.5,860.2 1300.5,848.7 1308.5,845.6 1316.5,850.2 1324.5,859.3 1332.5,859.3 1340.5,856.7 1348.5,857.2 1356.5,844.9 1364.5,839.1 1372.5,835 1380.5,822.3 1388.5,820.9 1396.5,825 1404.5,820.9 1412.5,817 1420.5,815.3 1428.5,824.4 1436.5,837 1444.5,835.9" fill="none" stroke="#1e90ff" stroke-width="1" shape-rendering="crispEdges"/>
<rect x="1656" y="756" width="2" height="1" fill="#000"/>
<text transform="translate(1659.3,765) scale(0.95,1)" font-size="10" fill="#000" font-weight="normal" text-anchor="start">100</text>
<text transform="translate(1658,794) scale(0.95,1)" font-size="10" fill="#000" font-weight="normal" text-anchor="start">80</text>
<text transform="translate(1658,845) scale(0.95,1)" font-size="10" fill="#000" font-weight="normal" text-anchor="start">50</text>
<text transform="translate(1658,906) scale(0.95,1)" font-size="10" fill="#000" font-weight="normal" text-anchor="start">15</text>
<text transform="translate(1659.8,925) scale(0.95,1)" font-size="10" fill="#000" font-weight="normal" text-anchor="start">0</text>
<text transform="translate(-5.6,941) scale(0.95,1)" font-size="10" fill="#000" font-weight="normal" text-anchor="start">20 Jan 2022</text>
<rect x="60" y="929" width="1" height="3" fill="#000"/>
<text transform="translate(59,941) scale(0.95,1)" font-size="10" fill="#000" font-weight="normal" text-anchor="start">24 Jan 00:00</text>
<rect x="124" y="929" width="1" height="3" fill="#000"/>
<text transform="translate(123,941) scale(0.95,1)" font-size="10" fill="#000" font-weight="normal" text-anchor="start">25 Jan 08:00</text>
<rect x="188" y="929" width="1" height="3" fill="#000"/>
<text transform="translate(187,941) scale(0.95,1)" font-size="10" fill="#000" font-weight="normal" text-anchor="start">26 Jan 16:00</text>
<rect x="252" y="929" width="1" height="3" fill="#000"/>
<text transform="translate(251,941) scale(0.95,1)" font-size="10" fill="#000" font-weight="normal" text-anchor="start">28 Jan 00:00</text>
<rect x="316" y="929" width="1" height="3" fill="#000"/>
<text transform="translate(315,941) scale(0.95,1)" font-size="10" fill="#000" font-weight="normal" text-anchor="start">31 Jan 08:00</text>
<rect x="380" y="929" width="1" height="3" fill="#000"/>
<text transform="translate(379,941) scale(0.95,1)" font-size="10" fill="#000" font-weight="normal" text-anchor="start">1 Feb 16:00</text>
<rect x="444" y="929" width="1" height="3" fill="#000"/>
<text transform="translate(443,941) scale(0.95,1)" font-size="10" fill="#000" font-weight="normal" text-anchor="start">3 Feb 00:00</text>
<rect x="508" y="929" width="1" height="3" fill="#000"/>
<text transform="translate(507,941) scale(0.95,1)" font-size="10" fill="#000" font-weight="normal" text-anchor="start">4 Feb 08:00</text>
<rect x="572" y="929" width="1" height="3" fill="#000"/>
<text transform="translate(571,941) scale(0.95,1)" font-size="10" fill="#000" font-weight="normal" text-anchor="start">7 Feb 16:00</text>
<rect x="636" y="929" width="1" height="3" fill="#000"/>
<text transform="translate(635,941) scale(0.95,1)" font-size="10" fill="#000" font-weight="normal" text-anchor="start">9 Feb 00:00</text>
<rect x="700" y="929" width="1" height="3" fill="#000"/>
<text transform="translate(699,941) scale(0.95,1)" font-size="10" fill="#000" font-weight="normal" text-anchor="start">10 Feb 08:00</text>
<rect x="764" y="929" width="1" height="3" fill="#000"/>
<text transform="translate(763,941) scale(0.95,1)" font-size="10" fill="#000" font-weight="normal" text-anchor="start">11 Feb 16:00</text>
<rect x="828" y="929" width="1" height="3" fill="#000"/>
<text transform="translate(827,941) scale(0.95,1)" font-size="10" fill="#000" font-weight="normal" text-anchor="start">15 Feb 00:00</text>
<rect x="892" y="929" width="1" height="3" fill="#000"/>
<text transform="translate(891,941) scale(0.95,1)" font-size="10" fill="#000" font-weight="normal" text-anchor="start">16 Feb 08:00</text>
<rect x="956" y="929" width="1" height="3" fill="#000"/>
<text transform="translate(955,941) scale(0.95,1)" font-size="10" fill="#000" font-weight="normal" text-anchor="start">17 Feb 16:00</text>
<rect x="1020" y="929" width="1" height="3" fill="#000"/>
<text transform="translate(1019,941) scale(0.95,1)" font-size="10" fill="#000" font-weight="normal" text-anchor="start">21 Feb 00:00</text>
<rect x="1084" y="929" width="1" height="3" fill="#000"/>
<text transform="translate(1083,941) scale(0.95,1)" font-size="10" fill="#000" font-weight="normal" text-anchor="start">22 Feb 08:00</text>
<rect x="1148" y="929" width="1" height="3" fill="#000"/>
<text transform="translate(1147,941) scale(0.95,1)" font-size="10" fill="#000" font-weight="normal" text-anchor="start">23 Feb 16:00</text>
<rect x="1212" y="929" width="1" height="3" fill="#000"/>
<text transform="translate(1211,941) scale(0.95,1)" font-size="10" fill="#000" font-weight="normal" text-anchor="start">25 Feb 00:00</text>
<rect x="1276" y="929" width="1" height="3" fill="#000"/>
<text transform="translate(1275,941) scale(0.95,1)" font-size="10" fill="#000" font-weight="normal" text-anchor="start">28 Feb 08:00</text>
<rect x="1340" y="929" width="1" height="3" fill="#000"/>
<text transform="translate(1339,941) scale(0.95,1)" font-size="10" fill="#000" font-weight="normal" text-anchor="start">1 Mar 16:00</text>
<rect x="1404" y="929" width="1" height="3" fill="#000"/>
<text transform="translate(1403,941) scale(0.95,1)" font-size="10" fill="#000" font-weight="normal" text-anchor="start">3 Mar 00:00</text>
<line x1="1243" y1="177" x2="1334.63" y2="352.43" stroke="#e8141e" stroke-width="3.4"/>
<path d="M1342.5,367.5 L1326.17,354.59 L1341.24,346.72 Z" fill="#e8141e"/>
<line x1="1343.5" y1="374" x2="1409.37" y2="156.87" stroke="#e8141e" stroke-width="3.4"/>
<path d="M1414.3,140.6 L1416.92,161.25 L1400.65,156.31 Z" fill="#e8141e"/>
<line x1="1415" y1="147" x2="1439.86" y2="215.75" stroke="#e8141e" stroke-width="3.4"/>
<path d="M1445.3,230.8 L1431.19,216.76 L1447.17,210.98 Z" fill="#e8141e"/>
<line x1="1446" y1="236.3" x2="1456.42" y2="223.74" stroke="#e8141e" stroke-width="3.4"/>
<path d="M1466,212.2 L1461.3,230.39 L1448.99,220.17 Z" fill="#e8141e"/>
<line x1="1407.9" y1="661.7" x2="1453.79" y2="666.72" stroke="#e8141e" stroke-width="3.4"/>
<path d="M1469.2,668.4 L1450.88,674.95 L1452.73,658.05 Z" fill="#e8141e"/>
<line x1="1385.8" y1="819.7" x2="1436.24" y2="834.61" stroke="#e8141e" stroke-width="3.4"/>
<path d="M1451.1,839 L1431.91,842.19 L1436.73,825.89 Z" fill="#e8141e"/>
</svg></body></html>
